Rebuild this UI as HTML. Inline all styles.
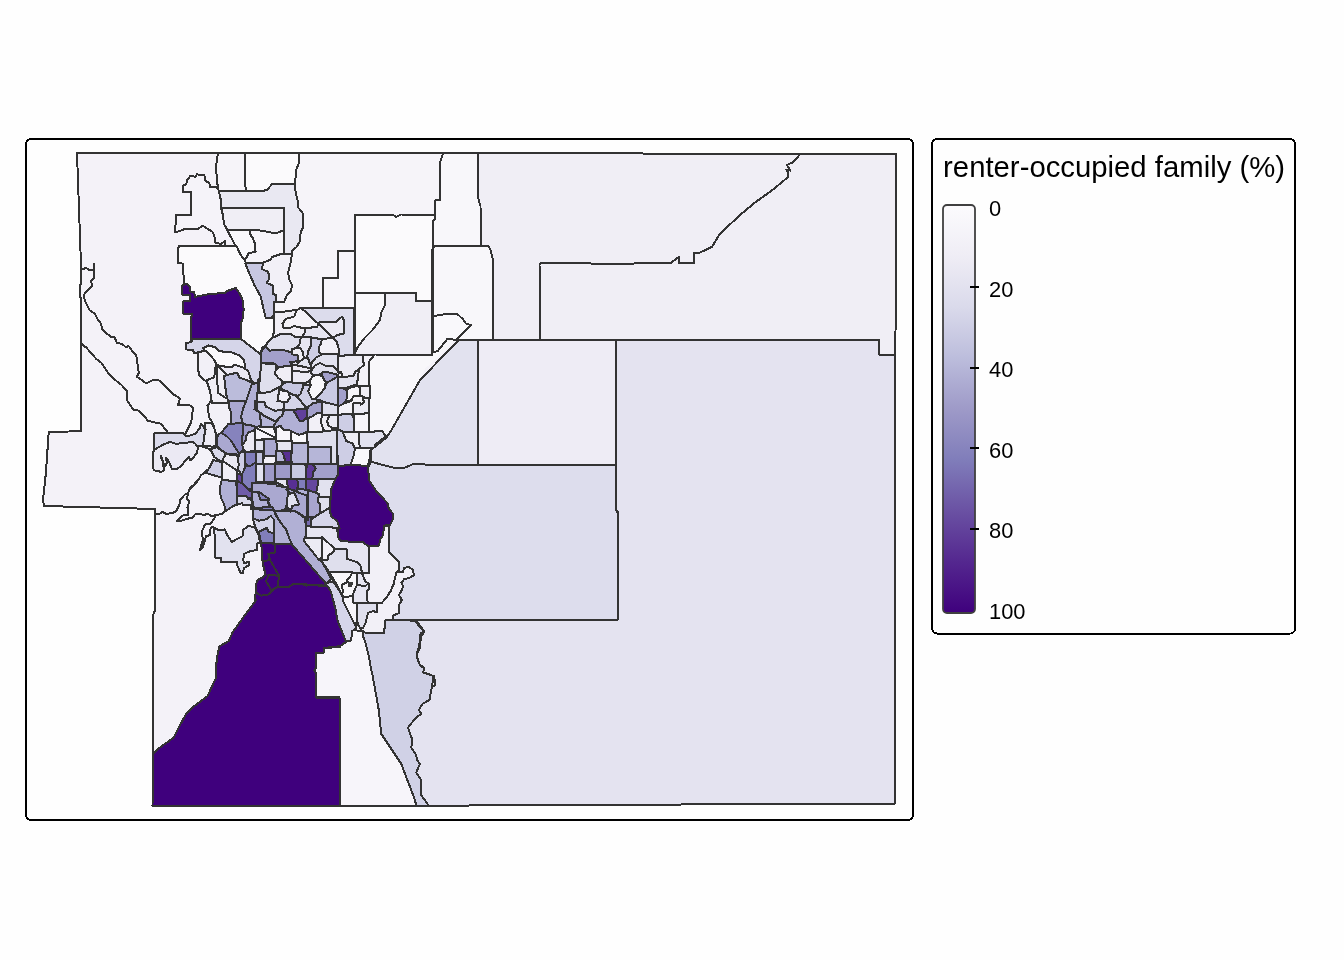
<!DOCTYPE html>
<html lang="en">
<head>
<meta charset="utf-8">
<title>renter-occupied family (%)</title>
<style>
html,body{margin:0;padding:0;background:#fefefe;}
body{width:1344px;height:960px;overflow:hidden;position:relative;font-family:"Liberation Sans",sans-serif;}
svg{position:absolute;left:0;top:0;display:block;}
#map .f{stroke:none;}
#map .s{fill:none;stroke:#333333;stroke-width:2.0;stroke-linejoin:round;stroke-linecap:round;}
.frame{fill:#fefefe;stroke:#000;stroke-width:2;}
.ttl{font-size:29.3px;fill:#000;}
.lab text{font-size:21.9px;fill:#000;}
.tk line{stroke:#000;stroke-width:1.8;}
</style>
</head>
<body>
<svg width="1344" height="960" viewBox="0 0 1344 960" font-family="Liberation Sans, sans-serif">
<defs><linearGradient id="g" x1="0" y1="0" x2="0" y2="1"><stop offset="0%" stop-color="#FCFBFD"/><stop offset="12.5%" stop-color="#EFEDF5"/><stop offset="25%" stop-color="#DADAEB"/><stop offset="37.5%" stop-color="#BCBDDC"/><stop offset="50%" stop-color="#9E9AC8"/><stop offset="62.5%" stop-color="#807DBA"/><stop offset="75%" stop-color="#6A51A3"/><stop offset="87.5%" stop-color="#54278F"/><stop offset="100%" stop-color="#3F007D"/></linearGradient></defs>
<rect x="0" y="0" width="1344" height="960" fill="#fefefe"/>
<rect class="frame" shape-rendering="crispEdges" x="26" y="139" width="887" height="681" rx="5" ry="5"/>
<g id="map" shape-rendering="crispEdges">
<path class="f" fill="#f4f2f8" d="M77,152.8 896.2,153.8 896,307 895,354.5 894.5,354.5 894.5,803.5 540,805.5 152.5,806.2 152.5,617 155,610 155,509 44,506 43,500 46,472 48.7,432 81,431.2 81,298 79.5,296 79.5,285 81,284 81,265Z"/>
<path class="f" fill="#fbfafc" d="M245,153.1 299.4,153.1 299,162.5 296.2,170 295,184.4 276.2,184.4 271.9,184.4 266.9,190 261.2,191.2 246.2,191.2 245,183.8Z"/>
<path class="f" fill="#f6f4f9" d="M218.1,152.5 245,153.1 245,183.8 246.2,191.2 218.8,191.2 217.8,187.5 216.9,177.5 215.9,167.5 216.9,160Z"/>
<path class="f" fill="#e9e8f2" d="M218.8,191.2 246.2,191.2 261.2,191.2 266.9,190 271.9,184.4 276.2,184.4 295,184.4 295.6,192.5 297.5,200 298.1,207.5 302.5,212.5 302.9,227.5 300.6,232.5 300,241.2 296.2,247.5 292.5,250 291.2,254.4 284.4,254.4 284.4,208.1 221.2,208.1 220.6,198.8Z"/>
<path class="f" fill="#f0eef5" d="M221.2,208.1 284.4,208.1 284.4,230 276.2,233.1 270.6,232.5 262.5,230.6 250.6,230.2 227.4,230.2 224,223.8 223.1,216.2Z"/>
<path class="f" fill="#f9f8fb" d="M227.4,230.2 250.6,230.2 250,233.8 253.1,238.8 255,243.8 255.6,251.9 248.8,253.1 246.2,258.1 243.1,260 240,255 236.2,247.5 234.5,243.8Z"/>
<path class="f" fill="#f6f4f9" d="M250.6,230.2 262.5,230.6 270.6,232.5 276.2,233.1 284.4,230 284.4,254.4 280,255 272.5,257.5 271.2,260 263.8,263.1 247.5,263.8 246.2,263.8 243.1,260 246.2,258.1 248.8,253.1 255.6,251.9 255,243.8 253.1,238.8 250,233.8Z"/>
<path class="f" fill="#f5f3f9" d="M218.1,188.1 215,186.9 210,186.9 209.4,183.1 205,180.6 204.4,175 196.9,174.4 195,176.9 190.6,175.6 186.9,180.6 186.2,184.4 182.8,185.6 182.8,191.9 191.2,191.9 191.2,215 176,215 175.2,232.2 178.8,231.2 185.6,228.8 198.1,228.8 202.5,225.6 205.6,227.5 212.5,231.9 214.4,236.2 215.6,243.1 221.2,243.8 225,241.2 225,245.6 235.9,246.2 234.5,243.8 229.2,233.8 224,223.8 223.1,216.2 221.2,208.1 220.6,198.8 218.8,191.2Z"/>
<path class="f" fill="#f6f4f9" d="M299.4,153.1 299,162.5 296.2,170 295,184.4 295.6,192.5 297.5,200 298.1,207.5 302.5,212.5 302.9,227.5 300.6,232.5 300,241.2 296.2,247.5 292.5,250 291.2,254.4 290.6,260 290.6,260 287.5,272.5 288.8,280 291.2,285 290.6,290.6 286.2,295 283.8,301.2 276.9,301.2 273.1,301.9 273.1,312.5 273.8,312.5 282.5,311.9 291.2,310.6 296.9,310 300,308.8 303.1,306.2 305,308.1 323.8,308.8 323.8,290 323,278 338.2,278 338.2,250.8 354.5,250.8 354.5,215 393,215 396.2,217 401.2,214.5 435,215 435,200.5 440,200 440,162.5 443,153.8Z"/>
<path class="f" fill="#f0eef5" d="M478,153.8 896.2,153.8 896,307 895,354.5 878.7,354.5 878.7,340 617,340 493,340 493,265 492.5,257.5 490.5,250 488.8,246.2 481,245.5 480.5,206.2 478,197.5Z"/>
<path class="f" fill="#f8f7fa" d="M443,153.8 478,153.8 478,197.5 480.5,206.2 481,245.5 435,246.2 432.5,248.8 432.5,221.2 435,218.8 435,200.5 440,200 440,162.5Z"/>
<path class="f" fill="#fbfafc" d="M354.5,215 393,215 396.2,217 401.2,214.5 435,215 435,218.8 432.5,221.2 432.5,248.8 432,301.2 416.2,300.8 416.2,293 385,293.5 354.5,293Z"/>
<path class="f" fill="#f7f5fa" d="M323,308.8 323,278 338.2,278 338.2,250.8 354.5,250.8 354.5,309.2Z"/>
<path class="f" fill="#f9f8fb" d="M354.5,293 385,293.5 384.5,306.2 381.2,312.5 380,320 372.5,330 365,337.5 357.5,347.5 354.5,353.8Z"/>
<path class="f" fill="#f0eef5" d="M385,293.5 416.2,293 416.2,300.8 432,301.2 432,355 412.5,355.5 375,354.5 354.5,355 354.5,353.8 357.5,347.5 365,337.5 372.5,330 380,320 381.2,312.5 384.5,306.2Z"/>
<path class="f" fill="#f8f7fa" d="M432.5,248.8 435,246.2 488.8,246.2 490.5,250 492.5,257.5 493,265 493,340 478,340 456.2,340 471.2,325 466.2,323.8 462.5,318.8 457.5,314.2 447.5,313.8 432.5,316.2Z"/>
<path class="f" fill="#f9f8fb" d="M432.5,316.2 447.5,313.8 457.5,314.2 462.5,318.8 466.2,323.8 471.2,325 456.2,340 447.5,338.8 437.5,351.2 432.5,352.5Z"/>
<path class="f" fill="#e4e3f0" d="M617,340.5 770.5,340 878.8,340 878.8,354.5 894.5,354.5 894.5,803.5 428,805.7 427.5,804 421.2,795 421.2,780 416.2,772.5 420,763.7 417,760 416.2,755 411.2,747.5 412.5,740 410,733.7 408,727.5 415,718.7 421.2,713.7 418.7,710 422.5,703.7 429.5,700 430.7,688 435,685 435.5,680 430,675 423,673.7 423.7,668 418,662.5 417,653.7 419.5,648.7 421.2,636.2 424.5,631.2 420,626.2 416.2,620 618,619.5 618,512.5 616.2,510 616.2,340Z"/>
<path class="f" fill="#eeecf5" d="M477.5,340 616.2,340 616.2,464.5 477.5,464.5Z"/>
<path class="f" fill="#e2e2ef" d="M477.5,340 477.5,464.5 425,464.5 413.8,463.8 405,467.5 396.2,468.2 382.5,465 370,461.2 370,450 375,444.5 385,438.8 390,432.5 420,380 458.7,340Z"/>
<path class="f" fill="#dddded" d="M370,461.2 382.5,465 396.2,468.2 405,467.5 413.8,463.8 425,464.5 616.2,464.5 616.2,510 617.5,512.5 618,557.5 618,619.5 384.4,620 392.5,618.8 392.5,615 398.8,612.5 398.1,605 401.2,600 398.1,595 400,592.5 402.5,586.2 400.6,582.5 403.8,578.8 408.8,577.5 413.1,575 412.5,570 408.1,567.5 404.4,568.8 403.8,572.5 396.9,572.5 398.1,570 398.1,561.9 388.1,551.9 388.1,526.2 390,525 390,525 392.5,520 393.1,513.8 388.8,508.8 387.5,503.1 376.2,491.2 368.8,480 368.1,464.4 369.5,465Z"/>
<path class="f" fill="#3f007d" d="M338.1,464.4 368.1,464.4 368.8,480 376.2,491.2 387.5,503.1 388.8,508.8 393.1,513.8 392.5,520 390,525 384.4,525.6 385,526.2 383.1,536.2 380.6,540 379.4,546.2 368.1,546.9 362.5,542.5 340.6,541.9 337.5,537.5 337.5,523.8 329.4,516.2 329.4,490 332.5,485 336.2,475Z"/>
<path class="f" fill="#dfdfed" d="M361.2,433.8 380,433 385,438.8 375,444.5 370,450 361.2,448.8Z"/>
<path class="f" fill="#d0d1e6" d="M363.8,630.6 365,631.9 373.1,632.2 383.8,632.2 384.4,620 415,620.6 417.5,623.8 420,627.5 424.4,631.2 420.6,633.1 420,640 418.8,647.5 416.9,652.5 417.5,658.8 420,665 424.4,668.8 423.1,672.5 427.5,673.8 433.8,676.2 429.5,700 422.5,703.8 418.8,710 421.2,713.8 415,718.8 408,727.5 410,733.8 412.5,740 411.2,747.5 416.2,755 417,760 420,763.8 416.2,772.5 421.2,780 421.2,795 427.5,803.8 428,805.8 416.2,805.8 415,800 401.2,763.8 381.2,733.8 378.8,710 372.5,675 371.2,670 368.8,656.2 365,641.2 362.5,635Z"/>
<path class="f" fill="#f7f5fa" d="M351.9,630.6 355,628.1 358.1,630.6 363.8,630.6 362.5,635 365,641.2 368.8,656.2 371.2,670 372.5,675 378.8,710 381.2,733.8 401.2,763.8 415,800 416.2,805.8 340,806.2 340,715 339.5,697.5 316.2,697 316.2,675 314.5,671.2 316.2,667.5 315.6,667.5 316.2,652.2 323.1,651.9 323.8,648.1 340,646.9 341.2,645 345,641.9 346.2,640.6 350,640 351.2,636.2Z"/>
<path class="f" fill="#3f007d" d="M334.4,600 331.2,591.2 328.8,586.2 326.2,583.1 323.1,580 316.2,572.5 308.8,563.8 300,553.8 292.5,545 290,543.5 275,543.1 261.2,543.1 261.9,552.5 262.5,561.2 263.8,568.1 265.6,574.4 262.5,577.5 257.5,580 255.6,586.2 255.6,592.5 255,601.6 245,615 232.5,632.5 228.8,641.2 219.5,646.2 217.5,655 216.2,665 216.2,677.5 207.5,696.2 192.5,707.5 186.2,713.8 180,725 173.8,737.5 160,747.5 153,753.8 152.5,806.2 340,806.2 340,715 339.5,697.5 316.2,697.5 316.2,673.8 314.5,670.5 316.2,667.5 316.2,653 323.8,652.5 323.8,648 340,646.2 347,641.2 343.8,632.5 338.8,620 336.2,607.5ZM256.2,600 255,601.9 255,601.6Z"/>
<path class="f" fill="#b1b0d5" d="M270,500 275,510 293.8,510 305,518.1 306.9,537.5 305,540.6 308.8,546.2 317.5,557.5 323.1,563.8 331.2,578.8 326.2,583.1 323.1,580 316.2,572.5 308.8,563.8 300,553.8 292.5,545 290,543.5 286.2,536.2 284.4,530 280,523.1 275,512.5 271.9,506.2 269.4,500Z"/>
<path class="f" fill="#b1b0d5" d="M275,512.5 280,523.1 284.4,530 286.2,536.2 290,543.1 275,543.1 273.1,543.1 273.8,532.5 275,525 273.8,518.8Z"/>
<path class="f" fill="#7c74b5" d="M260,531.9 265,528.1 268.1,530 268.8,533.8 273.1,533.1 273.1,542.5 261.2,542.5 260.6,536.2Z"/>
<path class="f" fill="#e2e2ef" d="M214.4,528.1 218.8,530 225,529.4 226.9,534.4 231.9,541.9 237.5,538.8 242.5,536.2 243.1,530 248.1,526.2 253.8,526.9 255.6,528.8 258.8,535 260,542.5 257.5,543.1 256.9,550 250,551.2 244.4,553.8 243.1,560 244.4,563.1 248.8,561.9 249.4,565 243.8,568.1 243.1,573.1 240.6,572.5 237.5,566.2 236.9,561.9 221.2,561.9 220.6,557.5 215,557.5Z"/>
<path class="f" fill="#fbfafc" d="M178.2,263 183.2,263.7 183.8,285.8 186.6,285.1 188.8,287.7 189.5,293.1 193.2,293.3 193.9,298.2 198.9,297.5 210.1,295 225.2,294.3 228.4,291.8 235.4,289.5 238.8,294.7 241.3,300.2 242.5,310 241.3,318.6 239.4,323.6 239.4,339.1 242.2,340.5 260.2,355.3 263.6,347.8 267.9,342.9 272.4,339.1 273.7,332.6 273.7,313.9 273.3,313.8 270.9,316.9 266.7,316.9 264.3,307.4 261.8,296 255.5,284.7 248,267.2 244.3,259.7 240.5,254.7 237,247.2 236.2,245.6 225,246.3 178.9,246.3 178.2,248.7Z"/>
<path class="f" fill="#3f007d" d="M182.5,285.2 182.1,294.6 190.4,294.9 190.4,300.7 183.2,301.3 183.2,313.7 192.3,314.3 190.7,318.6 190.7,340 240.6,339.3 240.6,323.9 242.5,318.9 243.7,310 242.5,299.8 239.9,294.1 235.9,288 227.8,290.7 224.8,293.2 209.9,293.8 198.6,296.3 194.9,296.8 194.3,292.2 190.5,291.9 189.9,287.3 187.1,283.7Z"/>
<path class="f" fill="#c7c7e1" d="M247.5,263.1 245.4,263.1 246.9,267.7 254.5,285.3 260.7,296.5 263.2,307.6 265.8,318.1 271.6,318.1 273.7,315.2 273.7,302.4 277.5,301.8 277.5,293.9 274.3,293.3 273.7,284.6 268.4,282.2 270.6,278.9 269.3,270.8 263.2,268.4 264.5,262.5Z"/>
<path class="f" fill="#f2f0f7" d="M263.2,262.7 261.8,269.1 268.2,271.7 269.4,278.6 266.6,282.8 272.6,285.4 273.2,294.2 276.3,294.9 276.3,301.9 284.2,301.9 286.8,295.3 291.2,290.9 291.9,284.9 289.3,279.8 288.1,272.5 291.2,260.1 291.9,253.8 284.3,253.8 279.9,254.4 272.1,257 270.8,259.5Z"/>
<path class="f" fill="#a3a0cb" d="M266.4,345.5 262.6,347 260,354.9 260.7,363.8 273.6,363.1 281.1,367.5 290.4,366.8 291.7,363 298,361.8 299.5,355.1 290.2,354.4 283.9,350.7 270.3,349.4Z"/>
<path class="f" fill="#f8f7fa" d="M369.4,361.2 373.8,355.6 432,355 432.5,352.5 437.5,351.2 447.5,338.8 456.2,340 425,368.8 418.8,380 403.8,410 393.8,426.2 385,436.9 381.2,432.5 368.8,432.5 369.4,410Z"/>
<path class="f" fill="#f4f2f8" d="M362.5,355.6 373.8,355.6 369.4,361.2 369.4,385 356.2,385 357.5,377.5 358.1,371.2 360,367.5 363.1,365Z"/>
<path class="f" fill="#dcdcec" d="M300.1,308.5 318.3,325.4 332.1,338.5 335.7,342.8 337.5,348.9 337.9,355.6 354.4,355.6 354.4,308.1 300.2,308.1Z"/>
<path class="f" fill="#ebe9f3" d="M318.9,322.5 318.1,325.2 331.8,338.2 337.7,334.9 343.7,333.6 343.7,319.9 342.1,316.5 336,321.9Z"/>
<path class="f" fill="#f0eef5" d="M273.8,312.5 282.5,311.9 291.2,310.6 296.9,310 300,308.8 301.2,308.8 318.8,325 332.5,338.1 322.5,340 311.9,338.1 301.2,337.5 295,337.5 291.2,335 281.2,334.4 271.9,338.8 273.8,333.8Z"/>
<path class="f" fill="#f4f2f8" d="M282.5,323.6 283.3,327.5 291.4,327.5 293.8,326.2 297.4,326.8 306.2,328.7 317.9,328.1 319.5,324.9 301.4,308 296.4,310.2 294.5,316.4 285.9,318.9Z"/>
<path class="f" fill="#e6e5f1" d="M305.1,328.2 304.4,333.5 301.4,337.7 301.4,337.8 312.4,338.7 322.5,340.6 333.6,338.5 333.7,338.4 318.6,324 317.1,326.9Z"/>
<path class="f" fill="#dfdfed" d="M267,343.4 265.6,346.3 269.1,351.9 280,351.2 286.1,351.8 293,354.6 293.7,349.9 297.2,349.3 301.2,344 301.9,336.9 295.2,336.9 291.4,334.4 281.1,333.8 271.5,338.3Z"/>
<path class="f" fill="#a3a0cb" d="M265.7,346 262,349.7 260.6,354.9 260.6,363.1 272.9,363.1 274.6,364.9 279.9,367.5 290.4,365.5 291.6,363.1 298.6,362.4 299.4,360.1 298.7,354.5 292.7,353.2 286.4,350.7 280,350 269.6,350.6Z"/>
<path class="f" fill="#e6e5f1" d="M300.7,336.9 300,343.5 295.8,349.2 295.8,349.4 299.7,349.4 301.9,352.7 302.6,358.7 308,358.7 309.3,351.4 311.8,346.4 312.5,337.6Z"/>
<path class="f" fill="#cecee5" d="M311.3,337.4 310.7,346.1 308.2,351.1 306.9,358.2 308.2,362.7 311.2,368.7 311.6,368.7 313,362.8 316.6,358.6 323.5,355.2 320.6,352.2 320,347.6 321.8,344.6 323.3,339.5Z"/>
<path class="f" fill="#f2f0f7" d="M322,339.5 320.7,344.1 318.8,347.4 319.4,352.8 322.3,355.6 339.1,355.6 338.7,348.6 336.8,342.2 332.7,337.5Z"/>
<path class="f" fill="#dfdfed" d="M260.9,363.1 260,364.8 256.9,385 258.2,392.4 266.3,394.4 272.7,391.8 280.5,387.9 283.2,380.4 279.2,377.1 276.3,373.6 276.9,370 275.5,364.4Z"/>
<path class="f" fill="#f0eef5" d="M275.7,369.6 275,373.9 278.3,377.9 282.2,381.2 286.1,382.5 293.2,383.2 291.8,365.6 279.8,366.9Z"/>
<path class="f" fill="#e2e2ef" d="M297.9,361.3 290.3,362 292.1,365.5 310.2,369.4 312,367.6 309.3,362.3 308,357.5 302.9,357.5Z"/>
<path class="f" fill="#f0eef5" d="M291.9,348.9 291.9,354.2 297.6,355.5 298.1,359.9 297.2,362.7 297.6,363 303.8,358.4 303.1,352.3 300.3,348.1 296.8,348.1Z"/>
<path class="f" fill="#ebe9f3" d="M291.8,364.2 292.6,371.8 303.8,373.1 312.1,371.7 310.4,368.2Z"/>
<path class="f" fill="#ebe9f3" d="M292.6,370.6 291.9,383.1 303.9,383.7 310.4,380.5 314.5,375 311.5,371.3 303.8,371.9Z"/>
<path class="f" fill="#e2e2ef" d="M322.4,354.4 315.9,357.6 312,362.2 310.6,367.6 312.4,371.2 315.4,366.7 320,364.4 324.9,366.9 332.3,366.9 335.9,370.5 339.1,372.3 339.1,354.4Z"/>
<path class="f" fill="#e2e2ef" d="M314.6,365.8 310.5,371.9 313.5,375.7 322.6,373.7 325,373.1 328.6,373.7 335.9,375.5 337.8,377.4 337.9,377.4 339.2,370.9 336.6,369.5 332.7,365.6 325.1,365.6 320,363.1Z"/>
<path class="f" fill="#f8f7fa" d="M313.4,375.7 310.1,379.8 309.4,384.8 306.2,391.9 307.6,394 309.6,400.7 315.3,399.9 320.5,395.4 324.3,389 325.6,382.4 322.9,377.1 318.9,375Z"/>
<path class="f" fill="#c7c7e1" d="M280.5,386.1 282.1,389.2 297.5,396.9 300.4,395.5 304.4,388.8 303,383.2 292.5,382.5 286.1,381.9Z"/>
<path class="f" fill="#a3a0cb" d="M321.9,372.7 321.9,375.1 324.5,380.3 327.4,383.9 338.4,376.3 336.6,374.5 328.9,372.5 325,371.9Z"/>
<path class="f" fill="#c9cae3" d="M338,376.5 327,382.7 324.5,388.4 319.6,394.6 313.8,400.3 313.8,400.3 338.1,406.4 339.1,387.5Z"/>
<path class="f" fill="#a3a0cb" d="M338.1,386.6 338.1,406.6 342.9,404.2 346.8,400.3 348.1,393.6 345.4,389.5Z"/>
<path class="f" fill="#ecebf4" d="M338.1,355.7 338.1,371.9 341.3,371.9 341.9,376.6 344.9,378.1 354.1,376.8 356.7,371.6 360.4,367.9 363.7,365.3 363.1,355Z"/>
<path class="f" fill="#e2e2ef" d="M338.1,376.9 338.1,387.5 347.6,387.5 356.8,384.2 358.1,377.6 358.8,370.6 355.9,370.6 353.4,375.7 345,376.9Z"/>
<path class="f" fill="#f0eef5" d="M358.1,385.6 358.1,398.1 370,398.1 370,385.6Z"/>
<path class="f" fill="#f2f0f7" d="M367.5,546.3 368.1,571.9 360.4,571.9 364.5,583 367.5,584.1 365.6,595 367.7,603.1 382.1,603.7 386.7,600.4 391.8,592.8 395.6,582.6 396.8,573.9 398.7,570.1 398.7,561.6 388.7,551.6 388.7,525.6 384.5,525.6 382.6,536 380.1,539.8 378.9,545.7Z"/>
<path class="f" fill="#e6e5f1" d="M306.3,525.6 306.3,534.9 304,539.4 322.3,538.7 334.8,550.6 345.6,550.6 345.6,559.8 355.9,563 359.4,566.5 360.8,573.1 369.4,573.1 368.7,546.6 362.7,541.9 340.9,541.3 338.1,537.3 336.8,525.6Z"/>
<path class="f" fill="#ecebf4" d="M304.4,538.2 304.4,541.5 318.6,559.5 323.1,557.2 323.1,537.5Z"/>
<path class="f" fill="#f2f0f7" d="M321.9,537.1 321.9,556.8 321.2,561.3 329.4,560.5 328.8,556.5 334.2,552.9 335.7,549.9 322.2,537Z"/>
<path class="f" fill="#dfdfed" d="M334.6,549.4 333.3,552.1 327.5,556 328.1,559.5 320.8,560.1 330.3,573.7 362,573.1 360.6,566 356.6,562 346.9,558.9 346.9,549.4Z"/>
<path class="f" fill="#dadaeb" d="M154.4,433.2 154.4,451 164,445.5 170,443.1 176.2,445 182.6,444.3 192.3,443.1 194.7,444.9 198.7,446.2 204.3,445.5 205.6,435 204.3,427.2 201,423.9 199.5,428.5 195.9,433.3 189.9,435.6 185.3,435.6 182.8,432.5Z"/>
<path class="f" fill="#ebe9f3" d="M154.5,449.6 153.2,452.3 152.5,467.7 154.7,470.5 161.4,471.9 163.8,470.3 163.1,462.4 160.7,456.4 161,456.1 164.8,466.2 165.1,466.2 166.9,462.6 165.9,457.6 166.4,457.9 169.5,462.8 172.1,469.4 176.5,469.4 181.7,465.4 185.4,460.4 189.1,457.3 190.4,460.4 193,457.9 196.8,452.8 198.2,447.4 195.4,443.9 192.7,441.9 182.4,443.2 176.3,443.8 170,441.9 163.5,444.5Z"/>
<path class="f" fill="#eeecf5" d="M205,423.1 205.6,430 204.4,434.9 203.1,445.6 207.4,445.6 212.5,446.9 216.2,445.4 216.2,434.9 214.3,428.5 211.6,423.1Z"/>
<path class="f" fill="#f2f0f7" d="M207.5,405.4 208.2,411.3 209.4,417.7 213.2,424 216.5,435.9 221.6,433 229.1,424.8 232.5,422.8 232.5,412.4 230.6,407.3 227.9,401.3 211,401.3Z"/>
<path class="f" fill="#f2f0f7" d="M396.4,571.9 395.7,574.9 393.8,583.6 390.7,591 385.8,598.4 381.6,603.1 376.3,603.1 375.7,610.6 372.4,610 367,612 364.4,622.3 362.1,627 360.8,627.5 356.7,624.1 354.2,628.3 357.9,631.2 363.5,631.2 364.7,632.5 373.1,632.9 384.3,632.9 384.9,620.5 393.1,619.3 393.1,615.4 399.4,612.9 398.7,605.1 402,600 398.9,595 400.5,592.8 403.2,586.2 401.3,582.6 404.1,579.3 409,578.1 413.8,575.3 413.1,569.6 408.2,566.8 403.8,568.3 403.2,571.9Z"/>
<path class="f" fill="#d5d5e9" d="M328.5,582.6 325.2,584.2 328.3,587.2 330.7,591.5 333.2,600.2 335.7,610.1 337.5,620.2 341.9,631.5 345.9,641.3 350.5,640.5 351.8,636.4 352.4,630.9 355.6,628.4 355.6,624.9 353,618.5 344.3,601 340.5,592.2 332.7,581.2Z"/>
<path class="f" fill="#f8f7fa" d="M328.9,572.7 332,576.6 337,585.3 340.8,592.4 344.5,593.3 343.2,585.4 349.6,582.8 348.2,580.1 351.8,576.6 353.4,572.6 345,571.9 328.9,572.6Z"/>
<path class="f" fill="#f8f7fa" d="M352.1,572.5 350.7,575.9 346.8,579.9 347.9,582.2 341.8,584.6 343.1,592.2 341.8,592.8 343.3,597.5 352.9,596.8 354.3,594 358.1,585.1 358.8,572.5Z"/>
<path class="f" fill="#3a3a3a" d="M347.8,581.5 352.5,582 352.8,585 351.2,587.2 348.1,586.5Z"/>
<path class="f" fill="#e6e5f1" d="M357.6,572.5 356.9,584.9 353.2,593.6 352.5,596.1 351.8,603.7 369.2,603.7 369.2,603.7 367.5,601.1 366.9,591.4 368.7,589 368.7,583.3 365.5,582 361.7,572.5Z"/>
<path class="f" fill="#f7f5fa" d="M343.1,596.9 343.1,601.4 354.9,625 355.1,625 357.5,620.1 357.5,603.2 353.1,602.6 353.1,596.2Z"/>
<path class="f" fill="#dfdfed" d="M356.9,603.1 356.9,621.4 360.3,628.9 362.9,628 365.6,622.7 368,613 372.6,611.2 376.8,611.9 377.5,603.1Z"/>
<path class="f" fill="#333333" d="M247.6,390.1 247.6,428.8 262.4,427.9 262.4,412.5 257.8,409.1 259.9,401.6 259.9,381.9 258.3,381.2Z"/>
<path class="f" fill="#aaa8d0" d="M248.6,390.6 248.6,427.7 261.4,426.9 261.4,413.1 256.6,409.5 258.9,401.4 258.9,382.6 258.5,382.4Z"/>
<path class="f" fill="#333333" d="M247.6,423.7 247.6,433.2 253.8,442.5 263.9,441.8 278.2,441 277.3,425.2Z"/>
<path class="f" fill="#f7f5fa" d="M248.6,424.8 248.6,432.9 254.3,441.5 263.8,440.8 277.1,440.1 276.3,426.2Z"/>
<path class="f" fill="#333333" d="M247.6,450.1 247.6,464.9 258,464.9 258,450.1Z"/>
<path class="f" fill="#7c74b5" d="M248.6,451.1 248.6,463.9 257,463.9 257,451.1Z"/>
<path class="f" fill="#333333" d="M247.6,462.6 247.6,484.9 258.1,484.9 257.3,462.6Z"/>
<path class="f" fill="#8683bd" d="M248.6,463.6 248.6,483.9 257.1,483.9 256.4,463.6Z"/>
<path class="f" fill="#333333" d="M235.3,472.2 235.3,492.4 251.6,492.4 252.4,490.4 245.8,484.1 244.4,474.7Z"/>
<path class="f" fill="#61409b" d="M236.3,473.5 236.3,491.4 251,491.4 251.2,490.7 244.8,484.6 243.5,475.5Z"/>
<path class="f" fill="#333333" d="M252,481.7 249.8,492.4 289.6,492.4 289.6,486.1 277.9,485.5 276.6,480.2Z"/>
<path class="f" fill="#b1b0d5" d="M252.8,482.7 251,491.4 288.6,491.4 288.6,487.1 277.1,486.4 275.8,481.3Z"/>
<path class="f" fill="#333333" d="M221.1,477.7 221.1,492.4 238.4,492.4 238.4,479.5Z"/>
<path class="f" fill="#b1b0d5" d="M222.1,478.8 222.1,491.4 237.4,491.4 237.4,480.4Z"/>
<path class="f" fill="#333333" d="M281.5,409.2 275.6,419.1 273.8,426 280.2,429.3 289.5,433.4 302.4,433.7 302.4,420 296.1,409.2Z"/>
<path class="f" fill="#b1b0d5" d="M282.1,410.2 276.6,419.5 275,425.5 280.6,428.4 289.7,432.4 301.4,432.7 301.4,420.2 295.6,410.2Z"/>
<path class="f" fill="#333333" d="M288.8,392.5 285.7,400.1 283.2,404 280.9,412.3 302.4,410.7 302.4,396Z"/>
<path class="f" fill="#d3d3e7" d="M289.4,393.7 286.6,400.6 284.1,404.4 282.3,411.2 301.4,409.8 301.4,396.8Z"/>
<path class="f" fill="#333333" d="M285.9,477.6 286.8,489.5 291.7,494.8 300.3,492.9 299.4,477.6Z"/>
<path class="f" fill="#65479e" d="M287,478.6 287.8,489.1 292,493.7 299.2,492.1 298.4,478.6Z"/>
<path class="f" fill="#333333" d="M297.4,477.6 297.4,493.8 307.6,498.3 307.6,477.6Z"/>
<path class="f" fill="#817ebb" d="M298.4,478.6 298.4,493.2 306.6,496.8 306.6,478.6Z"/>
<path class="f" fill="#333333" d="M273.7,477.6 275.8,487.5 288.3,488.5 288.3,477.6Z"/>
<path class="f" fill="#e2e2ef" d="M274.9,478.6 276.6,486.6 287.3,487.4 287.3,478.6Z"/>
<path class="f" fill="#333333" d="M305.5,516.7 305.5,527 312.4,527 312.4,516.7Z"/>
<path class="f" fill="#7c74b5" d="M306.5,517.7 306.5,526 311.4,526 311.4,517.7Z"/>
<path class="f" fill="#333333" d="M184.5,342.4 184.5,350.3 192.4,351 193.1,354.4 208,353.5 207.1,349.8 209.2,348.3 213.7,349.6 217.7,353.6 230.6,354.9 238.6,358.3 241.5,361.2 242.7,367.2 245.9,372.2 249.1,383.8 253.6,388.3 260.4,382.4 261.8,367.7 262.5,354.5 244,340 240.8,337.6 192.3,338.2 190.9,341Z"/>
<path class="f" fill="#d5d5e9" d="M185.5,343.3 185.5,349.4 193.2,350.1 193.9,353.3 206.8,352.5 206,349.3 209,347.2 214.3,348.7 218.1,352.6 230.9,353.9 239.2,357.4 242.5,360.7 243.7,366.8 246.8,371.8 250,383.2 253.7,386.9 259.5,381.9 260.8,367.6 261.4,355 243.4,340.8 240.5,338.6 192.9,339.2 191.5,341.9Z"/>
<path class="f" fill="#333333" d="M201.9,347.6 204.9,354.6 211.3,360.4 217.5,368.5 233.4,370 235.6,367.7 243.1,370.2 246.4,367 244.7,359.5 240.8,354.9 231.8,351.4 219.8,350.2 216.3,346.6 208.5,344.3Z"/>
<path class="f" fill="#faf9fc" d="M203.2,348.1 205.7,354 212.1,359.7 218,367.6 233,369 235.4,366.6 242.9,369.1 245.3,366.7 243.8,360 240.2,355.7 231.6,352.4 219.4,351.2 215.7,347.5 208.6,345.4Z"/>
<path class="f" fill="#333333" d="M196.9,351 197.6,374.7 201.5,379.3 207.2,383.4 217.2,379.2 218.7,365.7 214.4,358.6 209.2,352.7 206.5,350Z"/>
<path class="f" fill="#f2f0f7" d="M197.9,351.9 198.6,374.3 202.2,378.5 207.3,382.2 216.3,378.5 217.7,365.9 213.6,359.2 208.5,353.4 206.1,351Z"/>
<path class="f" fill="#333333" d="M213.7,369.5 221.1,373.2 225.5,377.7 233.6,375.6 235.1,376.2 236.8,380.4 244.2,384.8 254.8,385.8 255.8,383.7 252.1,380 248.9,370.4 243.6,366.6 234.4,363.5 231.6,366.2 219.5,365 213.7,368Z"/>
<path class="f" fill="#ebe9f3" d="M214.7,368.9 221.7,372.4 225.8,376.6 233.7,374.6 235.8,375.5 237.6,379.7 244.6,383.9 254.2,384.7 254.6,383.9 251.2,380.5 248.1,371 243.1,367.5 234.6,364.6 232,367.3 219.7,366.1 214.7,368.6Z"/>
<path class="f" fill="#333333" d="M205.1,379.9 208.9,390.6 211.1,403.6 230,403.6 229.1,397.5 224.5,393.6 219.9,391.1 219.2,363.8 214.9,363.6 213.4,376.4Z"/>
<path class="f" fill="#f0eef5" d="M206.4,380.5 209.9,390.4 211.9,402.6 228.9,402.6 228.2,398 223.9,394.5 218.9,391.7 218.2,364.8 215.8,364.6 214.3,377.1Z"/>
<path class="f" fill="#333333" d="M216.3,365.7 216.6,393.2 222.5,397 228.3,400.5 229.8,399.5 228,389.7 226.7,373.3 218.2,364.8Z"/>
<path class="f" fill="#f0eef5" d="M217.3,366.3 217.6,392.6 223,396.2 228.2,399.3 228.7,399 227,389.8 225.7,373.7 218,366Z"/>
<path class="f" fill="#333333" d="M278.8,387.7 275.9,398.5 278.3,402.5 286.4,403.4 289.4,400.4 291.4,393.3Z"/>
<path class="f" fill="#ebe9f3" d="M279.4,389.1 277,398.3 278.9,401.6 286,402.3 288.5,399.9 290.2,393.8Z"/>
<path class="f" fill="#333333" d="M257.1,390.5 255,402.8 263.6,404.3 266.1,409.9 272.5,408.3 280.1,410.1 285.4,411.2 287.6,400.1 280.8,399.4 280.2,397.4 281.9,388.1 280.8,387.2 272.9,390.6 266.2,392.9Z"/>
<path class="f" fill="#dfdfed" d="M257.9,391.8 256.1,402 264.3,403.4 266.7,408.8 272.5,407.3 280.3,409.1 284.6,410 286.4,401 280.1,400.3 279.2,397.4 280.8,388.5 280.7,388.4 273.3,391.6 266.2,393.9Z"/>
<path class="f" fill="#333333" d="M289,392.4 285.9,398.9 282.1,403.1 284.1,411.4 295.2,411.4 309,409.1 309.5,407.4 306.4,404.8 298.6,395.8Z"/>
<path class="f" fill="#d5d5e9" d="M289.5,393.6 286.7,399.5 283.2,403.4 284.9,410.4 295.1,410.4 308.3,408.2 308.4,407.8 305.7,405.5 298.1,396.7Z"/>
<path class="f" fill="#333333" d="M253.2,400.3 254.2,411.1 260.3,414.3 267.9,416.9 277.4,421.2 281.1,416.7 284.4,411.1 281.8,407.6 272.7,405.4 268,405.9 265.7,401.2Z"/>
<path class="f" fill="#cecee5" d="M254.3,401.4 255.2,410.5 260.7,413.4 268.2,415.9 277.1,420 280.3,416.2 283.2,411.1 281.2,408.5 272.6,406.5 267.4,407 265,402.2Z"/>
<path class="f" fill="#333333" d="M284.9,408.6 281.5,411.8 277,418.9 272.1,425.1 274.3,432.7 279.7,430.6 281.7,432.6 290.8,433.2 298.5,437.2 303.2,435.8 308.9,434 308.9,406.7 304.7,406.4 303.1,416.6 300.3,417.5 295.6,408.6Z"/>
<path class="f" fill="#b1b0d5" d="M285.3,409.6 282.3,412.5 277.9,419.4 273.2,425.3 275,431.4 279.9,429.4 282.1,431.6 291.1,432.3 298.6,436.1 302.9,434.8 307.9,433.3 307.9,407.7 305.5,407.5 304,417.4 299.8,418.7 295,409.6Z"/>
<path class="f" fill="#333333" d="M291.5,410 295.2,415 298.8,422 304,422 307.6,417.6 308.5,407.8 292.1,408.8Z"/>
<path class="f" fill="#61409b" d="M292.7,409.9 296.1,414.5 299.4,421 303.6,421 306.6,417.2 307.4,408.9 292.7,409.7Z"/>
<path class="f" fill="#333333" d="M259.1,410.8 259.1,427.6 273.5,427.6 279.3,419.4 269.7,414.4Z"/>
<path class="f" fill="#b6b6d8" d="M260.1,412.2 260.1,426.6 273,426.6 277.8,419.7 269.3,415.3Z"/>
<path class="f" fill="#333333" d="M302.9,384.2 299.5,393.7 295.6,396.4 304.2,407 307.4,409.5 314.3,404.9 321,401.8 320.5,399 312.6,398 311.9,396.5 309.3,391.1 312.1,384.2Z"/>
<path class="f" fill="#cecee5" d="M303.6,385.2 300.3,394.3 297.1,396.6 304.9,406.3 307.4,408.2 313.8,404 319.9,401.2 319.7,399.9 312,399 311,396.9 308.2,391.2 310.6,385.2Z"/>
<path class="f" fill="#333333" d="M306.7,406.6 305.9,419.7 314.2,417.5 318.6,414.3 323.3,412.7 323.3,399.8 312.4,402.5Z"/>
<path class="f" fill="#a3a0cb" d="M307.6,407.1 307,418.4 313.7,416.5 318.1,413.4 322.3,412 322.3,401.1 312.8,403.5Z"/>
<path class="f" fill="#333333" d="M321.1,400.5 321.1,416.4 339.5,416.4 339.5,404.7Z"/>
<path class="f" fill="#dfdfed" d="M322.1,401.7 322.1,415.4 338.5,415.4 338.5,405.5Z"/>
<path class="f" fill="#333333" d="M346.8,387.9 346.1,393.5 345.1,402.9 353.5,400.6 357.5,397.9 360.8,396.2 360.8,387.3 357,384.6Z"/>
<path class="f" fill="#f7f5fa" d="M347.7,388.7 347.1,393.6 346.3,401.5 353.1,399.7 357,397.1 359.8,395.6 359.8,387.8 356.9,385.7Z"/>
<path class="f" fill="#333333" d="M337.4,405.7 337.4,416.5 355.3,415.7 355.3,408 356.7,404.9 357.7,404.7 360.4,408.3 366.7,401.9 364.7,395.7 358.8,394.8 351.9,395.7 351.2,399.8 345.3,401.9Z"/>
<path class="f" fill="#f4f2f8" d="M338.4,406.4 338.4,415.5 354.3,414.7 354.3,407.8 356,404 358.1,403.6 360.5,406.8 365.6,401.6 363.9,396.6 358.8,395.8 352.8,396.6 352.1,400.6 345.7,402.8Z"/>
<path class="f" fill="#333333" d="M352.5,402.7 351.5,415.1 370.1,415.1 370.1,396.7 362,396.7 362.7,401.9 361,403.2 359.8,401.5Z"/>
<path class="f" fill="#ecebf4" d="M353.4,403.5 352.6,414.1 369.1,414.1 369.1,397.7 363.2,397.7 363.8,402.3 360.9,404.6 359.4,402.6Z"/>
<path class="f" fill="#333333" d="M306.6,417.5 306.6,434.5 315.5,437.3 318.5,435 328.5,433.2 324.3,426.5 322.7,421 323.5,412.9 317.6,411.5 312.6,415.1Z"/>
<path class="f" fill="#f2f0f7" d="M307.6,418.2 307.6,433.8 315.3,436.2 318.1,434.1 326.9,432.5 323.4,426.9 321.7,421.1 322.4,413.7 317.8,412.6 313.1,416Z"/>
<path class="f" fill="#333333" d="M321.6,413.6 319.8,421.3 321.9,428.5 325.2,434 339.2,433.1 338.3,426.7 331.9,426.7 329.2,425 328.4,421.4 331.2,413.6Z"/>
<path class="f" fill="#f0eef5" d="M322.4,414.6 320.8,421.3 322.8,428.1 325.7,433 338.1,432.2 337.5,427.7 331.7,427.7 328.4,425.6 327.3,421.3 329.7,414.6Z"/>
<path class="f" fill="#333333" d="M328.7,414.4 325.9,421.2 327.8,426.3 331.8,428.9 338.9,428.9 338.9,413.3Z"/>
<path class="f" fill="#ecebf4" d="M329.4,415.3 327,421.2 328.6,425.7 332.1,427.9 337.9,427.9 337.9,414.4Z"/>
<path class="f" fill="#333333" d="M337.4,413.7 337.4,430.6 345.8,433.9 355.1,433.9 355.1,419.6 352.6,412.9Z"/>
<path class="f" fill="#cecee5" d="M338.4,414.7 338.4,430 346,432.9 354.1,432.9 354.1,419.7 351.9,413.9Z"/>
<path class="f" fill="#333333" d="M353,413.1 353,433.9 370.1,433.9 370.1,412.2Z"/>
<path class="f" fill="#f7f5fa" d="M354,414 354,432.9 369.1,432.9 369.1,413.3Z"/>
<path class="f" fill="#333333" d="M305.1,431.4 305.1,449.9 327.6,449.9 327.6,466.1 339.9,466.1 339.9,428.6 324.7,430.1 317.3,431.4Z"/>
<path class="f" fill="#dfdfed" d="M306.1,432.4 306.1,448.9 328.6,448.9 328.6,465.1 338.9,465.1 338.9,429.7 324.8,431.1 317.4,432.4Z"/>
<path class="f" fill="#333333" d="M305.1,446.4 305.1,465.5 331.8,465.5 331.8,446.4Z"/>
<path class="f" fill="#b6b6d8" d="M306.1,447.4 306.1,464.5 330.8,464.5 330.8,447.4Z"/>
<path class="f" fill="#333333" d="M336.4,427.7 335.7,466.9 354.3,466.1 357.3,456.8 358.7,448.5 355.6,440.7 349.3,438.2 346.8,431.9Z"/>
<path class="f" fill="#cecee5" d="M337.4,429.2 336.7,465.8 353.5,465.1 356.4,456.6 357.7,448.6 354.8,441.4 348.6,438.9 346.1,432.7Z"/>
<path class="f" fill="#333333" d="M341.5,431.4 345.7,441.8 351.9,444.3 354.6,451.1 363.9,451.1 362.2,431.4Z"/>
<path class="f" fill="#f0eef5" d="M342.9,432.4 346.4,441.1 352.7,443.6 355.3,450.1 362.8,450.1 361.3,432.4Z"/>
<path class="f" fill="#333333" d="M357.4,431.5 359,451.1 370.8,451.1 376.5,446.9 388.4,437.2 382.3,430Z"/>
<path class="f" fill="#e2e2ef" d="M358.5,432.4 360,450.1 370.5,450.1 375.9,446.1 387,437.1 381.9,431.1Z"/>
<path class="f" fill="#333333" d="M354.2,447 352.7,455.7 349.2,466 369.7,466.8 371.8,461.8 372.5,447Z"/>
<path class="f" fill="#f9f8fb" d="M355.1,448 353.6,455.9 350.6,465.1 369.1,465.8 370.8,461.6 371.5,448Z"/>
<path class="f" fill="#333333" d="M289.5,441.4 289.5,465.5 308.6,465.5 308.6,441.4Z"/>
<path class="f" fill="#b6b6d8" d="M290.5,442.4 290.5,464.5 307.6,464.5 307.6,442.4Z"/>
<path class="f" fill="#333333" d="M289.5,429.4 289.5,444.3 308,444.3 308,431.2 299,433.7Z"/>
<path class="f" fill="#f9f8fb" d="M290.5,431 290.5,443.3 307,443.3 307,432.5 298.9,434.8Z"/>
<path class="f" fill="#333333" d="M274.5,427.1 274.5,442.2 292.4,443.9 292.4,429.7 283.9,429 280.9,424.5Z"/>
<path class="f" fill="#f7f5fa" d="M275.5,427.8 275.5,441.3 291.4,442.8 291.4,430.6 283.3,429.9 280.5,425.8Z"/>
<path class="f" fill="#333333" d="M274.5,440.1 274.5,453.6 293,453.6 293,440.1Z"/>
<path class="f" fill="#e6e5f1" d="M275.5,441.1 275.5,452.6 292,452.6 292,441.1Z"/>
<path class="f" fill="#333333" d="M261.4,437.6 261.4,457.4 278.1,457.4 277.3,437.6Z"/>
<path class="f" fill="#aaa8d0" d="M262.4,438.6 262.4,456.4 277.1,456.4 276.3,438.6Z"/>
<path class="f" fill="#333333" d="M274.5,450.1 274.5,463.6 289,463.6 288,455.5 285.2,450.1Z"/>
<path class="f" fill="#b6b6d8" d="M275.5,451.1 275.5,462.6 287.8,462.6 287,455.8 284.6,451.1Z"/>
<path class="f" fill="#333333" d="M279.9,450.1 283.3,457 284.1,463 292.4,465.8 292.4,450.1Z"/>
<path class="f" fill="#582f93" d="M281.5,451.1 284.3,456.7 285,462.3 291.4,464.4 291.4,451.1Z"/>
<path class="f" fill="#333333" d="M261.4,454.5 261.4,464.9 277.4,464.9 277.4,454.5Z"/>
<path class="f" fill="#f4f2f8" d="M262.4,455.5 262.4,463.9 276.4,463.9 276.4,455.5Z"/>
<path class="f" fill="#333333" d="M252.6,438.9 252.6,453.6 264.9,453.6 264.9,438.9Z"/>
<path class="f" fill="#e2e2ef" d="M253.6,439.9 253.6,452.6 263.9,452.6 263.9,439.9Z"/>
<path class="f" fill="#333333" d="M255.2,450.1 254.3,464.9 264.1,464.9 265.1,450.1Z"/>
<path class="f" fill="#c2c3df" d="M256.2,451.1 255.4,463.9 263.2,463.9 264,451.1Z"/>
<path class="f" fill="#333333" d="M254.5,462.6 254.5,484.3 265.5,484.3 265.5,462.6Z"/>
<path class="f" fill="#e2e2ef" d="M255.5,463.6 255.5,483.3 264.5,483.3 264.5,463.6Z"/>
<path class="f" fill="#333333" d="M262.6,462.6 262.6,484.1 277.4,485.1 277.4,462.6Z"/>
<path class="f" fill="#9e9ac8" d="M263.6,463.6 263.6,483.2 276.4,484 276.4,463.6Z"/>
<path class="f" fill="#333333" d="M274.6,461.4 273.7,480.6 292.3,479.8 293.1,461.4Z"/>
<path class="f" fill="#9e9ac8" d="M275.5,462.4 274.8,479.6 291.3,478.8 292.1,462.4Z"/>
<path class="f" fill="#333333" d="M289.5,462.6 289.5,479.8 308,480.6 308,462.6Z"/>
<path class="f" fill="#c9cae3" d="M290.5,463.6 290.5,478.8 307,479.6 307,463.6Z"/>
<path class="f" fill="#333333" d="M304.4,462.6 305.2,481.1 315.9,481.1 316.7,473.5 320.5,468.9 316.3,462.6Z"/>
<path class="f" fill="#5e3998" d="M305.4,463.6 306.2,480.1 315,480.1 315.7,473.1 319.2,468.8 315.7,463.6Z"/>
<path class="f" fill="#333333" d="M311.3,463.8 314.5,468.6 312.1,471.5 311.1,481.1 335,481.1 338.6,475.7 338.6,462.6 312,462.6Z"/>
<path class="f" fill="#a3a0cb" d="M312.5,463.8 315.8,468.7 313,471.9 312.2,480.1 334.5,480.1 337.6,475.4 337.6,463.6 312.6,463.6Z"/>
<path class="f" fill="#333333" d="M274.5,477.6 274.5,488.5 288.6,489.4 288.6,477.6Z"/>
<path class="f" fill="#e6e5f1" d="M275.5,478.6 275.5,487.6 287.6,488.4 287.6,478.6Z"/>
<path class="f" fill="#333333" d="M285.3,477.6 288.1,494.4 293.5,492.6 299.6,496.1 300.7,495.4 299.8,477.6Z"/>
<path class="f" fill="#582f93" d="M286.5,478.6 288.9,493.1 293.6,491.5 299.5,494.9 299.6,494.9 298.8,478.6Z"/>
<path class="f" fill="#333333" d="M296,477.6 297.9,490.8 308.6,492.9 308.6,477.6Z"/>
<path class="f" fill="#817ebb" d="M297.1,478.6 298.8,489.9 307.6,491.7 307.6,478.6Z"/>
<path class="f" fill="#333333" d="M305.1,477.6 305.1,491.7 319.6,497.1 321.4,477.6Z"/>
<path class="f" fill="#65479e" d="M306.1,478.6 306.1,491 318.7,495.7 320.3,478.6Z"/>
<path class="f" fill="#333333" d="M318,477.5 315,494.3 318.7,499.9 331.8,499.9 331.8,490.5 336.6,478.4Z"/>
<path class="f" fill="#e2e2ef" d="M318.8,478.5 316,494.1 319.3,498.9 330.8,498.9 330.8,490.3 335.2,479.3Z"/>
<path class="f" fill="#333333" d="M317.5,496.4 313.3,502.6 315.9,506 318.3,517.1 331.1,511.6 331.1,496.4Z"/>
<path class="f" fill="#dfdfed" d="M318,497.4 314.5,502.5 316.8,505.6 319,515.7 330.1,510.9 330.1,497.4Z"/>
<path class="f" fill="#333333" d="M305.1,487.8 305.1,520.2 321.9,518.4 321.1,504 318.8,501.7 320.2,493.4Z"/>
<path class="f" fill="#a8a5ce" d="M306.1,489.2 306.1,519.1 320.8,517.5 320.1,504.4 317.7,502 319.1,494.1Z"/>
<path class="f" fill="#333333" d="M305.1,516.4 305.1,527.4 314.5,527.4 313.4,516.4Z"/>
<path class="f" fill="#766ab0" d="M306.1,517.4 306.1,526.4 313.4,526.4 312.5,517.4Z"/>
<path class="f" fill="#333333" d="M310.1,518.7 310.1,528 340.9,528.7 338.3,521.1 331.7,515.1 330.8,506.1 318.7,513Z"/>
<path class="f" fill="#d5d5e9" d="M311.1,519.3 311.1,527 339.5,527.7 337.5,521.7 330.7,515.6 329.9,507.7 319.3,513.8Z"/>
<path class="f" fill="#333333" d="M250.1,481.4 250.1,509.6 260.9,511.1 272.4,512.4 283.1,512.4 289.2,508.9 290,488.6 276.9,481.4Z"/>
<path class="f" fill="#acabd2" d="M251.1,482.4 251.1,508.7 261.1,510.1 272.4,511.4 282.9,511.4 288.2,508.3 288.9,489.2 276.6,482.4Z"/>
<path class="f" fill="#333333" d="M259.8,491.6 250.6,487.5 251.4,509.2 268.4,509.9 272.9,505.5 268,495.7Z"/>
<path class="f" fill="#bbbcdb" d="M259.3,492.5 251.6,489.1 252.4,508.2 268.1,508.9 271.7,505.3 267.3,496.5Z"/>
<path class="f" fill="#333333" d="M286.5,490.6 284.9,511.8 293.1,511.8 294.5,506.7 300.7,504 299.8,493.9 294.5,488.6Z"/>
<path class="f" fill="#dfdfed" d="M287.4,491.4 286,510.8 292.3,510.8 293.7,506 299.6,503.4 298.9,494.4 294.2,489.7Z"/>
<path class="f" fill="#333333" d="M296.5,487.2 295.8,500.9 290.1,503.4 290.1,510.8 298.7,512.2 306.4,521.5 308.6,520.7 308.6,489.2Z"/>
<path class="f" fill="#b1b0d5" d="M297.4,488.4 296.8,501.6 291.1,504.1 291.1,509.9 299.3,511.3 306.8,520.3 307.6,520 307.6,490.1Z"/>
<path class="f" fill="#333333" d="M223,375.1 224.2,386.5 225.5,395.5 228,403.7 247.8,403.4 252,389.5 254.2,382.8 247.2,379.3 240.4,377 237.5,371.7 229.4,373.3Z"/>
<path class="f" fill="#bbbcdb" d="M224.1,375.9 225.2,386.4 226.5,395.3 228.7,402.7 247,402.4 251.1,389.2 252.9,383.3 246.8,380.2 239.7,377.8 237,372.8 229.7,374.3Z"/>
<path class="f" fill="#333333" d="M227.7,400.4 228.3,408 230.1,413 230.4,425.3 244.8,424.5 243.1,416.3 245.4,408.4 249.5,399.7Z"/>
<path class="f" fill="#aaa8d0" d="M228.7,401.4 229.2,407.8 231.1,412.8 231.4,424.2 243.6,423.6 242.1,416.3 244.4,408 247.9,400.8Z"/>
<path class="f" fill="#333333" d="M250.9,383.7 249,389.3 245.9,399.2 242.7,406.7 240,416.9 242.5,424.7 255,428.4 261.9,426.6 261.1,410.1 256.9,406.5 258.6,395.2 259.5,381.1Z"/>
<path class="f" fill="#b1b0d5" d="M251.7,384.5 249.9,389.6 246.8,399.5 243.7,407 241,416.9 243.3,423.9 255,427.3 260.8,425.8 260.1,410.6 255.9,406.9 257.6,395.1 258.4,382.5Z"/>
<path class="f" fill="#333333" d="M227.8,423.1 219.3,433.5 225.3,438.1 228.7,441.5 234.9,451.4 238.5,456.2 244.2,450.4 244.9,440 244.2,421.8Z"/>
<path class="f" fill="#8683bd" d="M228.3,424 220.8,433.4 226,437.3 229.5,440.9 235.7,450.8 238.6,454.6 243.2,450 243.9,440 243.2,422.9Z"/>
<path class="f" fill="#333333" d="M216.7,434.2 216.3,439.9 216.3,446.8 221.3,451.4 227,454.9 240.1,455.7 240.9,454.4 237.6,449.3 231.4,439.5 227.5,435.6 221.4,431.6Z"/>
<path class="f" fill="#aaa8d0" d="M217.6,434.8 217.3,440 217.3,446.4 221.9,450.6 227.3,453.9 239.6,454.7 239.7,454.4 236.8,449.9 230.6,440.1 226.9,436.4 221.3,432.7Z"/>
<path class="f" fill="#333333" d="M241.6,422.8 241.6,432.5 241.3,444.3 248.2,442.6 248.2,436.8 250.1,434 256.5,431.2 255.3,425.2Z"/>
<path class="f" fill="#9e9ac8" d="M242.6,424 242.6,432.5 242.3,443.1 247.2,441.8 247.2,436.4 249.4,433.2 255.3,430.6 254.4,426Z"/>
<path class="f" fill="#333333" d="M244.8,440.1 241.1,444.7 243.5,453.4 256.4,451.6 256.4,428.2 248.3,431.5 244.8,435.6Z"/>
<path class="f" fill="#ebe9f3" d="M245.8,440.5 242.2,444.9 244.2,452.3 255.4,450.7 255.4,429.7 248.9,432.3 245.8,436Z"/>
<path class="f" fill="#333333" d="M209.2,449 213.5,457.6 219,461.6 223.9,462.7 228.8,454.6 222.4,449.8 216.5,446.1Z"/>
<path class="f" fill="#dadaeb" d="M210.6,449.5 214.3,456.9 219.4,460.7 223.4,461.6 227.5,454.9 221.8,450.6 216.4,447.2Z"/>
<path class="f" fill="#333333" d="M225.4,453.1 220.8,460.8 223.8,464 234.6,472.2 240.1,470.3 242,465.1 240.5,459.3 237.4,454.5Z"/>
<path class="f" fill="#ebe9f3" d="M225.9,454.1 222,460.7 224.4,463.3 234.8,471.1 239.3,469.5 241,465.1 239.5,459.7 236.8,455.4Z"/>
<path class="f" fill="#333333" d="M238.3,452.3 236.8,460.3 238,464.9 236.6,468.8 241.9,477 243.8,476.7 245.7,469 247.1,460 245.4,449.8Z"/>
<path class="f" fill="#cecee5" d="M239.1,453.1 237.8,460.3 239,464.9 237.7,468.7 242.4,475.9 243,475.8 244.8,468.8 246,460 244.6,451.1Z"/>
<path class="f" fill="#333333" d="M244.2,451.1 244.2,463.2 249.7,468.9 257.6,463.6 258.5,451.1Z"/>
<path class="f" fill="#817ebb" d="M245.2,452.1 245.2,462.8 249.8,467.6 256.6,463 257.4,452.1Z"/>
<path class="f" fill="#333333" d="M245,464.9 243.2,469.3 240.5,474.8 241.9,486.2 251.2,491.6 254.1,484.1 257.6,482.6 257.6,461.2 256.4,460.6 250,464.9Z"/>
<path class="f" fill="#817ebb" d="M245.7,465.9 244.1,469.7 241.6,475 242.8,485.6 250.7,490.2 253.3,483.3 256.6,481.9 256.6,461.8 256.5,461.7 250.3,465.9Z"/>
<path class="f" fill="#333333" d="M255.5,451.1 254.7,464.6 264,464.6 264,451.1Z"/>
<path class="f" fill="#c2c3df" d="M256.4,452.1 255.8,463.6 263,463.6 263,452.1Z"/>
<path class="f" fill="#333333" d="M255.4,462.9 254.8,483.4 265.2,483.4 264.6,462.9Z"/>
<path class="f" fill="#e2e2ef" d="M256.4,463.9 255.8,482.4 264.2,482.4 263.6,463.9Z"/>
<path class="f" fill="#333333" d="M221.1,460.1 221.1,480.7 238.4,482.4 238.4,470.4 222.3,459.4Z"/>
<path class="f" fill="#f0eef5" d="M222.1,460.7 222.1,479.8 237.4,481.3 237.4,470.9 222.3,460.6Z"/>
<path class="f" fill="#333333" d="M205,473.7 223.4,479.2 223.4,461.7 212.8,458.8Z"/>
<path class="f" fill="#cecee5" d="M206.5,473.1 222.4,477.9 222.4,462.4 213.3,460Z"/>
<path class="f" fill="#333333" d="M256.1,392.4 256.1,403 263.4,404.3 264.4,408.8 274.7,413.4 284.5,411.8 284.5,399.6 279.8,398.4 281.1,386.4 279.9,385.6 270.4,390.6 264.7,391.7Z"/>
<path class="f" fill="#e2e2ef" d="M257.1,393.3 257.1,402.2 264.2,403.5 265.3,408.1 274.8,412.3 283.5,410.9 283.5,400.4 278.8,399.2 280,386.9 279.9,386.8 270.8,391.5 264.8,392.7Z"/>
<path class="f" fill="#333333" d="M254.5,400.1 253.4,409.8 258.7,412.9 263.7,416.7 275.3,422.5 282.9,416.2 285.7,407.9 275.3,409.8 266.7,406 265.4,401.3Z"/>
<path class="f" fill="#c9cae3" d="M255.4,401.2 254.5,409.2 259.2,412 264.3,415.8 275.2,421.3 282.1,415.6 284.2,409.2 275.2,410.8 265.9,406.7 264.6,402.2Z"/>
<path class="f" fill="#333333" d="M278.4,388.8 276.4,401.7 287.1,403.5 291,398 289.2,390.8Z"/>
<path class="f" fill="#f2f0f7" d="M279.2,390 277.5,400.9 286.6,402.4 289.9,397.8 288.4,391.7Z"/>
<path class="f" fill="#333333" d="M221.1,479.1 218.6,488.6 219.9,498.2 223.1,504.6 224.9,512.6 231.3,508.5 239.7,503.5 238.3,492.2 236.8,480Z"/>
<path class="f" fill="#b1b0d5" d="M221.8,480.2 219.6,488.7 220.9,497.9 224,504.2 225.6,511 230.7,507.7 238.6,503 237.3,492.3 235.9,480.9Z"/>
<path class="f" fill="#333333" d="M235.5,478.8 235.5,496.7 245.8,498.2 253.3,500.3 253.3,491.5 250.2,489.7 243.9,483.4Z"/>
<path class="f" fill="#6f5ca9" d="M236.5,480.5 236.5,495.8 246,497.2 252.3,499 252.3,492.1 249.6,490.5 243.3,484.2Z"/>
<path class="f" fill="#333333" d="M236.1,494.6 236.1,506 241.5,504.4 242.6,506.5 253.3,505.7 253.3,498.9 248.6,498.2 247.9,495.6Z"/>
<path class="f" fill="#dadaeb" d="M237.1,495.7 237.1,504.6 242,503.2 243.2,505.5 252.3,504.8 252.3,499.8 247.8,499.1 247.1,496.6Z"/>
<path class="f" fill="#333333" d="M251.1,481.6 251.1,493.4 256.9,493.4 261.2,496.6 268.4,503.9 272.6,512.1 283.2,511.3 288.1,507.3 289.5,498.8 288.2,486.4 277.6,485 276.3,483Z"/>
<path class="f" fill="#aaa8d0" d="M252.1,482.6 252.1,492.4 257.3,492.4 261.8,495.8 269.2,503.3 273.2,511.1 282.8,510.4 287.2,506.7 288.5,498.8 287.3,487.3 277.1,485.9 275.8,484Z"/>
<path class="f" fill="#333333" d="M251,490.5 251.8,507.7 259.8,510.2 270.8,508.4 268,498.9 258.1,490.5Z"/>
<path class="f" fill="#b1b0d5" d="M252,491.5 252.8,506.9 259.9,509.2 269.5,507.6 267.1,499.5 257.8,491.5Z"/>
<path class="f" fill="#333333" d="M256.7,492.1 259.8,501.1 269.5,501.1 270.3,498.6 258.7,490.6Z"/>
<path class="f" fill="#8683bd" d="M257.9,492.5 260.5,500.1 268.7,500.1 269.1,499 258.8,491.8Z"/>
<path class="f" fill="#333333" d="M258,506.7 258,512 275.7,512.9 276.4,511.7 272.9,506Z"/>
<path class="f" fill="#817ebb" d="M259,507.7 259,511.1 275.1,511.9 275.2,511.7 272.4,507.1Z"/>
<path class="f" fill="#333333" d="M251.5,507.7 252.5,519.9 258.3,523.4 268.7,521.2 271,519 272.4,520 272.4,544.5 293.3,544.5 290.7,539.1 286.9,528.8 281.7,522.3 276.9,515.1 274.5,509.3 260.2,508.6Z"/>
<path class="f" fill="#b1b0d5" d="M252.6,508.8 253.4,519.3 258.5,522.4 268.2,520.3 270.9,517.7 273.4,519.5 273.4,543.5 291.7,543.5 289.8,539.5 286,529.3 280.9,522.9 276,515.6 273.8,510.3 260.1,509.6Z"/>
<path class="f" fill="#333333" d="M251.5,518.2 254.4,527.1 257.5,533.8 263.3,531.9 266,530.8 267.4,533.7 275.1,535 275.1,519.3 270.7,514.6 266.4,518.2 259,519.7 253,516.9Z"/>
<path class="f" fill="#d5d5e9" d="M252.7,518.5 255.3,526.8 258,532.6 263,530.9 266.5,529.5 268.1,532.8 274.1,533.8 274.1,519.7 270.6,516 266.9,519.1 258.9,520.8 253.1,518.1Z"/>
<path class="f" fill="#333333" d="M257.6,531.5 260.3,543.9 275.1,543.9 275.1,532 269.5,531.3 267.2,526.5Z"/>
<path class="f" fill="#817ebb" d="M258.8,532 261.1,542.9 274.1,542.9 274.1,532.9 268.8,532.2 266.8,527.8Z"/>
<path class="f" fill="#333333" d="M285,489.9 290.9,495.2 292.3,498.8 288.5,500.8 284.5,511.1 295.1,512 307.2,519.5 308.3,518.9 308.3,494.9 299.6,491.9 286.8,486.9Z"/>
<path class="f" fill="#aaa8d0" d="M286.3,489.7 291.7,494.6 293.6,499.3 289.3,501.5 285.9,510.2 295.4,511 307.2,518.3 307.3,518.3 307.3,495.6 299.2,492.8 287.2,488.1Z"/>
<path class="f" fill="#333333" d="M286.9,493.5 285.4,506.8 291,513.1 293.1,506.7 300.3,505.3 298.1,499.1 294.9,491.2Z"/>
<path class="f" fill="#e2e2ef" d="M287.8,494.3 286.4,506.5 290.6,511.1 292.3,505.8 299,504.6 297.2,499.5 294.3,492.4Z"/>
<path class="s" d="M77,152.8 81,265 81,284 79.5,285 79.5,296 81,298 81,431.2 48.7,432 46,472 43,500 44,506 155,509 155,610 152.5,617 152.5,753.9 152.7,754 160,747.5 173.8,737.5 180,725 186.2,713.8 192.5,707.5 207.5,696.2 216.2,677.5 216.2,665 217.5,655 219.5,646.2 228.8,641.2 232.5,632.5 245,615 255,601.6 255.6,592.5 255.6,586.2 257.5,580 262.5,577.5 265.6,574.4 263.8,568.1 262.5,561.2 261.9,552.5 261.2,542.9 261.1,542.9 261,542.3 257.5,543.1 256.9,550 250,551.2 244.4,553.8 243.1,560 244.4,563.1 248.8,561.9 249.4,565 243.8,568.1 243.1,573.1 240.6,572.5 237.5,566.2 236.9,561.9 221.2,561.9 220.6,557.5 215,557.5 214.4,528.1 218.8,530 225,529.4 226.9,534.4 231.9,541.9 237.5,538.8 242.5,536.2 243.1,530 248.1,526.2 253.8,526.9 255.2,528.3 255.8,527.8 255.3,526.8 252.7,518.5 253.3,517.9 252.6,508.9 251.1,508.7 251.1,504.9 243.2,505.5 242,503.2 237.1,504.6 237.1,503.9 237.1,503.9 230.7,507.7 225.6,511 224,504.2 220.9,497.9 219.6,488.7 221.8,480.2 222.1,480.2 222.1,477.8 206.5,473.1 213.3,460 219.4,461.6 219.8,460.9 214.3,456.9 210.6,449.5 216.4,447.2 217.7,448 218.3,447.2 217.3,446.4 217.3,445 212.5,446.9 207.4,445.6 203.8,445.6 198.7,446.2 197.6,445.9 197.3,446.3 198.2,447.4 196.8,452.8 193,457.9 190.4,460.4 189.1,457.3 185.4,460.4 181.7,465.4 176.5,469.4 172.1,469.4 169.5,462.8 166.9,458.6 166.1,458.9 166.9,462.6 165.1,466.2 164.8,466.2 164.1,464.4 163.3,464.6 163.8,470.3 161.4,471.9 154.7,470.5 152.5,467.7 153.2,452.3 154.4,449.9 154.4,433.2 182.8,432.5 185.3,435.6 189.9,435.6 195.9,433.3 199.5,428.5 201,423.9 205,427.9 205.4,427.8 205,423.1 212.7,423.1 212.7,423.1 209.4,417.7 208.2,411.3 207.5,405.4 211,401.3 211.7,401.3 209.9,390.4 206.9,381.9 202.2,378.5 198.6,374.3 198,353.1 193.9,353.3 193.2,350.1 185.5,349.4 185.5,343.3 191.5,341.9 192.5,340 190.7,340 190.7,318.6 192.3,314.3 183.2,313.7 183.2,301.3 190.4,300.7 190.4,294.9 182.1,294.6 182.5,285.2 183.8,284.8 183.2,263.7 178.2,263 178.2,248.7 178.9,246.3 225,246.3 225,241.3 224.9,241.3 221.2,243.8 215.6,243.1 214.4,236.2 212.5,231.9 205.6,227.5 202.5,225.6 198.1,228.8 185.6,228.8 178.8,231.2 175.2,232.2 176,215 191.2,215 191.2,191.9 182.8,191.9 182.8,185.6 186.2,184.4 186.9,180.6 190.6,175.6 195,176.9 196.9,174.4 204.4,175 205,180.6 209.4,183.1 210,186.9 215,186.9 217.8,188 216.9,177.5 215.9,167.5 216.9,160 218,153ZM236.3,454.5 236.3,454.6 238,457.3 238.4,457.3 238.9,454.6ZM216.2,439.8 217.4,439.8 217.6,435.3 217.6,435.3 216.2,436.1ZM291.4,253.8 291.9,253.8 291.2,260.1 288.1,272.5 289.3,279.8 291.9,284.9 291.2,290.9 286.8,295.3 284.2,301.9 276.9,301.9 273.7,302.4 273.7,332.6 272.7,337.6 272.8,337.6 281.1,333.8 291.4,334.4 295.2,336.9 300.7,336.9 300.7,336.9 301.3,336.9 302,336.9 304.4,333.5 305.1,328.5 297.4,326.8 293.8,326.2 291.4,327.5 283.3,327.5 282.5,323.6 285.9,318.9 294.5,316.4 296.4,310.2 300,308.6 300.2,308.1 301.1,308.1 301.4,308 301.5,308.1 323,308.1 323,278 338.2,278 338.2,250.8 354.5,250.8 354.5,215 393,215 396.2,217 401.2,214.5 435,215 435,218.8 432.5,221.2 432.5,248.4 432.8,248.5 435,246.2 488.8,246.2 490.5,250 492.5,257.5 493,265 493,340 616.2,340 616.2,340 617,340.5 770.5,340 878.8,340 878.8,354.5 895,354.5 896,307 896.2,153.8 299.4,153.1 299,162.5 296.2,170 295,184.4 295.6,192.5 297.5,200 298.1,207.5 302.5,212.5 302.9,227.5 300.6,232.5 300,241.2 296.2,247.5 292.5,250ZM347.6,387.5 342.3,387.5 342.2,388.2 345.4,389.5 347,391.9 347.3,391.8 347.7,388.7 348.9,388.3 348.9,388.3 356.9,385.7 358,386.5 358.1,386.5 358.1,385.6 370,385.6 370,398.1 369.1,398.1 369.1,431.8 381.9,431.1 386.7,436.7 390,432.5 420,380 458.4,340.3 458.3,340 456.2,340 447.5,338.8 437.5,351.2 432,352.6 432,355 412.5,355.5 375,354.5 363,354.8 363.7,365.3 360.4,367.9 358,370.4 358.1,370.6 358.8,370.6 358.1,377.6 356.8,384.2ZM329.5,573.5 328.7,574 331.2,578.8 327.3,582.2 327.7,582.9 332.7,581.2 336.1,585.9 337,585.3 332,576.6ZM327.8,570.1 326.9,570.6 328.4,573.5 328.5,573.5 329.2,572.1ZM319.9,560.2 321.4,560.1 321.7,558.1 321.6,558 319.1,559.3ZM303.1,383.7 303.5,385.2 309.4,385.2 309.9,380.8 309.9,380.7 303.9,383.7ZM245.2,465.9 247.8,465.9 247.9,465.6 245.7,463.3 245.5,463.4ZM282.9,381.4 281.7,384.5 282.2,384.8 285.5,382.3 285.5,382.2ZM276,365.5 275.8,365.7 276.6,369 279.3,367.2ZM237.4,470.2 237.4,473.8 241.3,474.9 241.5,474.6 238.4,469.8ZM339,376.9 342,376.9 341.3,371.9 339.1,371.9 339.1,372.3 338.9,372.2 338.2,376.1ZM318.8,374.5 318.8,375 322.2,376.7 322.5,376.3 321.9,375.1 321.9,373.9ZM423.9,632.1 423.5,631.7 420.6,633.1 420.3,636.4 420.9,636.6ZM414.7,619.9 414.6,620.1 416.5,622.5 417.4,621.9 416.2,619.9ZM433.5,678.1 433.4,678.2 431.9,686.9 432.1,687 435,685 435.5,680ZM357,621.5 356.8,621.5 355.9,623.4 357.8,625 358.4,624.6ZM296.2,170 299,162.5 299.4,153.1 245,153.1 245,183.8 246.2,191.2 261.2,191.2 266.9,190 271.9,184.4 295,184.4ZM217.9,188 218.1,188.1 218.8,191.2 246.2,191.2 245,183.8 245,153.1 218.1,152.5 216.9,160 215.9,167.5 216.9,177.5 217.8,187.5ZM292.5,250 296.2,247.5 300,241.2 300.6,232.5 302.9,227.5 302.5,212.5 298.1,207.5 297.5,200 295.6,192.5 295,184.4 271.9,184.4 266.9,190 261.2,191.2 218.8,191.2 220.6,198.8 221.2,208.1 284.4,208.1 284.4,253.8 291.4,253.8ZM284.4,208.1 221.3,208.1 223.1,216.2 224,223.8 227.4,230.2 250.6,230.2 262.5,230.6 270.6,232.5 276.2,233.1 284.4,230ZM227.4,230.2 229.2,233.8 234.5,243.8 235.6,245.7 236.2,245.6 237,247.2 240.5,254.7 244.1,259.4 246.2,258.1 248.8,253.1 255.6,251.9 255,243.8 253.1,238.7 250,233.8 250.6,230.2ZM244.1,259.4 246,263.1 247.5,263.1 263.6,262.5 270.8,259.5 272.1,257 279.9,254.4 284.4,253.8 284.4,230 276.2,233.1 270.6,232.5 262.5,230.6 250.6,230.2 250,233.8 253.1,238.8 255,243.8 255.6,251.9 248.8,253.1 246.2,258.1ZM215,186.9 210,186.9 209.4,183.1 205,180.6 204.4,175 196.9,174.4 195,176.9 190.6,175.6 186.9,180.6 186.2,184.4 182.8,185.6 182.8,191.9 191.2,191.9 191.2,215 176,215 175.2,232.3 178.8,231.2 185.6,228.8 198.1,228.8 202.5,225.6 205.6,227.5 212.5,231.9 214.4,236.2 215.6,243.1 221.2,243.8 225,241.2 225,245.6 230.6,245.9 235.6,245.7 234.5,243.8 224,223.8 223.1,216.2 221.2,208.1 220.6,198.8 218.8,191.2 218.1,188.1ZM432.5,221.2 435,218.8 435,215 401.2,214.5 396.2,217 393,215 354.5,215 354.5,293 385,293.5 416.2,293 416.2,300.8 432,301.2 432.5,248.8ZM354.5,250.8 338.2,250.8 338.2,278 323,278 323,308.1 354.5,308.1ZM354.5,293 354.5,352.2 355.2,352.4 357.5,347.5 365,337.5 372.5,330 380,320 381.2,312.5 384.5,306.2 385,293.5ZM385,293.5 384.5,306.2 381.2,312.5 380,320 372.5,330 365,337.5 357.5,347.5 354.5,353.8 354.5,355 375,354.5 412.5,355.5 432,355 432,301.2 416.2,300.8 416.2,293ZM471.2,325 456.5,339.7 456.6,340 493,340 493,265 492.5,257.5 490.5,250 488.8,246.2 435,246.2 432.5,248.8 432.5,316.2 447.5,313.8 457.5,314.2 462.5,318.8 466.2,323.8ZM432.5,316.2 432.5,352.5 437.5,351.2 447.5,338.8 456.2,340 471.2,325 471.2,325 466.2,323.8 462.5,318.8 457.5,314.2 447.5,313.8ZM420,763.7 420,763.7 416.2,772.5 421.2,780 421.2,795 427.5,803.8 428,805.7 894.5,803.5 894.5,354.5 878.8,354.5 878.8,340 770.5,340 616.2,340.5 616.2,510 616.4,510.2 618,512.5 618,619.5 416.2,620 416.2,620 420,626.2 424.5,631.2 421.2,636.2 419.5,648.7 417,653.7 417.6,659 419.6,664.1 423.7,668 423.7,668.2 424.4,668.8 423.1,672.5 427.5,673.8 433.8,676.2 433.4,678.1 435.5,680 435,685 431.8,687.2 429.5,700 422.5,703.8 418.8,710 421.2,713.8 415,718.8 408,727.5 410,733.7 412.5,740 411.2,747.5 416.2,755 417,760 420,763.7ZM616.2,340 477.5,340 477.5,464.5 616.2,464.5ZM477.5,340 458.7,340 420,380 390,432.5 386.7,436.7 387,437.1 385.2,438.5 385,438.8 384.7,438.9 375.9,446.1 371.4,449.5 370.8,461.5 382.5,465 396.2,468.2 405,467.5 413.8,463.8 425,464.5 477.5,464.5ZM369.4,465 369.1,465.8 368.2,465.8 368.8,480 376.3,491.2 387.5,503.1 388.8,508.8 393.1,513.8 392.5,520 390,525 388.7,525.9 388.7,551.6 398.7,561.6 398.7,570.1 397.8,571.9 403.2,571.9 403.8,568.3 408.2,566.8 413.1,569.6 413.8,575.3 409,578.1 404.1,579.3 401.3,582.6 403.2,586.2 400.5,592.8 398.9,595 402,600 398.7,605.1 399.4,612.9 393.1,615.4 393.1,620 618,619.5 618,557.5 617.5,512.5 616.2,510 616.2,464.5 425,464.5 413.8,463.8 405,467.5 396.2,468.2 382.5,465 370.8,461.5 369.6,464.6 369.5,465ZM335.3,478.9 330.8,490.3 330.8,498.9 330.1,498.9 330.1,509.9 330.7,515.6 337.5,521.7 339.5,527.7 337.5,527.7 337.5,532.1 338.1,537.3 340.9,541.3 362.7,541.9 368.3,546.3 378.9,545.7 380.1,539.8 382.6,536 384.5,525.7 384.4,525.6 390,525 392.5,520 393.1,513.8 388.8,508.8 387.5,503.1 376.2,491.2 368.8,480 368.2,465.8 352.5,465.2 337.9,465.8 337.6,467.1 337.6,475.4ZM428,805.8 427.5,803.8 421.2,795 421.2,780 416.2,772.5 420,763.8 417,760 416.2,755 411.2,747.5 412.5,740 410,733.8 408,727.5 415,718.8 421.2,713.8 418.8,710 422.5,703.8 429.5,700 433.8,676.2 427.5,673.8 423.1,672.5 424.4,668.8 420,665 417.5,658.8 416.9,652.5 418.8,647.5 420,640 420.6,633.1 424.4,631.2 420,627.5 417.5,623.8 415,620.6 387.9,620.1 384.9,620.5 384.3,632.9 373.1,632.9 364.7,632.5 363.6,631.3 362.5,635 365,641.2 368.8,656.2 371.2,670 372.5,675 378.8,710 381.2,733.8 401.2,763.8 415,800 416.2,805.8ZM347.3,641.1 340.8,645.7 340,646.9 323.8,648.1 323.8,652.5 316.2,653 316.2,667.5 314.7,670.8 316.2,673.8 316.2,697 339.5,697.5 340,715 340,806.2 416.3,805.8 415,800 401.2,763.8 381.2,733.8 378.8,710 372.5,675 371.2,670 368.8,656.2 365,641.2 362.5,635 363.6,631.2 357.9,631.2 355,628.9 352.4,630.9 351.8,636.4 350.5,640.5ZM254.5,602.3 245,615 232.5,632.5 228.8,641.2 219.5,646.2 217.5,655 216.2,665 216.2,677.5 207.5,696.2 192.5,707.5 186.2,713.8 180,725 173.8,737.5 160,747.5 153,753.8 152.5,806.2 340,806.2 340,715 339.5,697.5 316.2,697.5 316.2,673.8 314.5,670.5 316.2,667.5 316.2,653 323.8,652.5 323.8,648 340,646.2 346.1,641.9 341.9,631.5 337.5,620.2 335.7,610.1 333.2,600.2 330.7,591.5 328.3,587.2 325.2,584.2 326.6,583.5 323.1,580 316.2,572.5 308.8,563.8 300,553.8 292.5,545 290,543.5 273.4,543.5 273.4,543.1 261.2,543.1 261.9,552.5 262.5,561.2 263.8,568.1 265.6,574.4 262.5,577.5 257.5,580 255.6,586.2 255.6,592.5 255.1,600.7 255.6,600.9 256.2,600 254.7,602.4ZM274.9,512.3 277.6,517.9 280.9,522.9 286,529.3 289.8,539.5 291.7,543.5 291.1,543.5 291,544.1 292.5,545 300,553.8 308.8,563.8 316.2,572.5 323.1,580 326.2,583.1 331.2,578.8 323.1,563.7 319.1,559.3 318.6,559.5 304.4,541.5 304.4,539.4 304,539.4 304.4,538.6 304.4,538.2 304.6,538.2 306.3,534.9 306.3,531.3 305,518.1 295.1,511 292.6,510.8 290.7,510.8 290.6,511.1 290.3,510.8 286,510.8 286,510.3 285,510.2 282.9,511.4 275.4,511.4ZM214.4,528.1 215,557.5 220.6,557.5 221.2,561.9 236.9,561.9 237.5,566.2 240.6,572.5 243.1,573.1 243.8,568.1 249.4,565 248.8,561.9 244.4,563.1 243.1,560 244.4,553.8 250,551.2 256.9,550 257.5,543.1 260,542.5 258.8,535 255.6,528.8 253.8,526.9 248.1,526.2 243.1,530 242.5,536.2 237.5,538.8 231.9,541.9 226.9,534.4 225,529.4 218.8,530ZM183.2,263.7 183.8,284.8 187.1,283.7 189.9,287.3 190.5,291.9 194.3,292.2 194.9,296.8 198.6,296.3 209.9,293.8 224.8,293.2 227.8,290.7 235.9,288 239.9,294.1 242.5,299.8 243.7,310 242.5,318.9 240.6,323.9 240.6,338.7 243.4,340.8 260.3,354.1 262.6,347 265.2,346 266.3,344.7 267,343.4 271.5,338.3 272.7,337.7 273.7,332.6 273.7,315.9 273.3,315.8 271.6,318.1 265.8,318.1 263.2,307.6 260.7,296.5 254.5,285.3 246.9,267.7 245.4,263.1 246,263.1 244.3,259.7 240.5,254.7 237,247.2 236.2,245.6 225,246.3 178.9,246.3 178.2,248.7 178.2,263ZM182.1,294.6 190.4,294.9 190.4,300.7 183.2,301.3 183.2,313.7 192.3,314.3 190.7,318.6 190.7,340 192.5,340 192.9,339.2 240.6,338.6 240.6,323.9 242.5,318.9 243.7,310 242.5,299.8 239.9,294.1 235.9,288 227.8,290.7 224.8,293.2 209.9,293.8 198.6,296.3 194.9,296.8 194.3,292.2 190.5,291.9 189.9,287.3 187.1,283.7 182.5,285.2ZM245.4,263.1 246.9,267.7 254.5,285.3 260.7,296.5 263.2,307.6 265.8,318.1 271.6,318.1 273.7,315.2 273.7,302.4 276.3,302 276.3,294.9 273.2,294.2 272.6,285.4 266.6,282.8 269.4,278.6 268.2,271.7 261.8,269.1 263.3,262.5 247.5,263.1ZM263.2,262.7 261.8,269.1 268.2,271.7 269.4,278.6 266.6,282.8 272.6,285.4 273.2,294.2 276.3,294.9 276.3,301.9 284.2,301.9 286.8,295.3 291.2,290.9 291.9,284.9 289.3,279.8 288.1,272.5 291.2,260.1 291.9,253.8 284.3,253.8 279.9,254.4 272.1,257 270.8,259.5ZM332.9,337.6 333.7,338.4 333.6,338.5 336.8,342.2 338.7,348.6 339.1,354.4 339.1,354.4 339.1,355 339.1,355.6 340.6,355.6 354.4,355.2 354.4,308.1 302,308.1 301.8,308.5 318.5,323.9 318.9,322.5 336,321.9 342.1,316.5 343.7,319.9 343.7,333.6 337.7,334.9ZM318.5,323.9 319.2,324.6 319.5,324.9 319.5,324.9 332.7,337.5 332.7,337.5 332.9,337.6 337.7,334.9 343.7,333.6 343.7,319.9 342.1,316.5 336,321.9 318.9,322.5ZM283.3,327.5 291.4,327.5 293.8,326.2 297.4,326.8 305.1,328.5 305.1,328.2 317.1,326.9 318.6,324 301.4,308 296.4,310.2 294.5,316.4 285.9,318.9 282.5,323.6ZM304.4,333.5 302,336.9 302,336.9 311.3,337.5 311.3,337.4 311.9,337.5 312.5,337.6 312.5,337.6 322.5,339.4 332.6,337.5 332.6,337.4 318.6,324 317.1,326.9 305.1,328.2ZM265.7,346 269.6,350.6 280,350 286.4,350.7 291.9,352.9 291.9,348.9 296.5,348.2 300,343.5 300.7,336.9 295.2,336.9 291.4,334.4 281.1,333.8 271.5,338.3 267,343.4ZM262,349.7 260.8,354.4 261.4,355 261,363.1 272.9,363.1 274.1,364.3 275.5,364.4 275.7,365.4 279.3,367.2 279.8,366.9 287.7,366 290.4,365.5 291.2,363.8 290.3,362 297.7,361.3 298.1,359.9 297.6,355.5 291.9,354.2 291.9,352.9 286.4,350.7 280,350 269.6,350.6 265.7,346ZM296.7,348 296.7,348.1 300.3,348.1 303.1,352.3 303.7,357.5 307,357.5 308.2,351.1 310.7,346.1 311.3,337.5 300.7,336.9 300,343.5ZM310.7,346.1 308.2,351.1 307,357.5 308,357.5 309.3,362.3 310.8,365.3 311.2,365.2 312,362.2 315.9,357.6 321.5,354.8 319.4,352.8 318.8,347.4 320.7,344.1 322.1,339.3 311.3,337.4ZM320.7,344.1 318.8,347.4 319.4,352.8 321.5,354.8 322.4,354.4 339.1,354.4 338.7,348.6 336.8,342.2 332.7,337.5 322,339.5ZM258.9,382.4 258.9,392 262.4,392.9 264.8,392.7 270.8,391.5 280.6,386.4 280.5,386.1 281.4,385.4 282.9,381.4 282.2,381.2 278.3,377.9 275,373.9 275.7,369.6 276.6,369 275.5,364.4 261,363.1 260.8,367.6 259.5,381.9ZM275,373.9 278.3,377.9 282.2,381.2 285.6,382.3 286.1,381.9 291.9,382.5 292.4,373.4 291.8,365.6 279.8,366.9 275.7,369.6ZM290.3,362 291.4,364.2 310.4,368.2 311.1,365.8 309.3,362.3 308,357.5 303.7,357.5 303.8,358.4 297.6,363 297.2,362.7 297.7,361.3ZM291.9,348.9 291.9,354.2 297.6,355.5 298.1,359.9 297.2,362.7 297.6,363 303.8,358.4 303.1,352.3 300.3,348.1 296.8,348.1ZM292.5,370.6 303.8,371.9 310.9,371.3 311.5,370.4 310.4,368.2 291.8,364.2ZM291.9,382.5 292.5,382.5 303,383.2 303.1,383.7 303.9,383.7 309.9,380.7 310.1,379.8 313.5,375.6 310.1,371.4 303.8,371.9 292.6,370.6ZM315.9,357.6 312,362.2 310.6,367.6 311.8,370 314.6,365.8 320,363.1 325.1,365.6 332.7,365.6 336.6,369.5 338.1,370.4 338.1,355.7 339.1,355.6 339.1,354.4 322.4,354.4ZM310.5,371.9 313.5,375.7 321.9,373.9 321.9,372.7 325,371.9 328.9,372.5 336.6,374.5 338.1,376 338.2,376 339,371.9 338.1,371.9 338.1,370.4 336.6,369.5 332.7,365.6 325.1,365.6 320,363.1 314.6,365.8ZM309.4,385.2 310.6,385.2 308.2,391.2 311,396.9 312,399 314.8,399.3 319.6,394.6 324.4,388.5 325.6,382.4 324.7,380.6 324.5,380.3 322.8,377 318.9,375 313.4,375.7 310.1,379.8ZM282.1,389.2 286.2,391.3 288.4,391.7 288.6,392.5 292.9,394.6 298,395.9 300.3,394.3 303.6,385.5 303,383.2 292.5,382.5 286.1,381.9 280.5,386.1ZM321.9,375.1 324.5,380.3 326.6,382.9 338.4,376.3 336.6,374.5 328.9,372.5 325,371.9 321.9,372.7ZM319.9,401.7 322.3,401.1 322.3,401.8 338.1,405.4 338.1,378 338,376.5 327,382.7 324.5,388.4 319.6,394.6 315,399.2 315,399.3 319.7,399.9ZM338.1,405.4 338.5,405.5 338.5,406.3 342.9,404.2 346.3,400.8 347.1,393.6 347.3,392.3 345.4,389.5 340.3,387.5 338.1,387.5ZM338.1,371.9 341.3,371.9 341.9,376.6 342.5,376.9 345,376.9 353.4,375.7 355.9,370.6 357.7,370.6 360.4,367.9 363.7,365.3 363.1,355 338.1,355.7ZM338.1,376.9 338.1,387.5 347.6,387.5 356.8,384.2 358.1,377.6 358.8,370.6 355.9,370.6 353.4,375.7 345,376.9ZM358.1,386.6 359.8,387.8 359.8,396 363.9,396.6 364.3,397.7 370,397.7 370,385.6 358.1,385.6ZM369.2,603.1 381.6,603.1 385.8,598.4 390.7,591 393.8,583.6 395.7,574.9 396.4,571.9 397.8,571.9 398.7,570.1 398.7,561.6 388.7,551.6 388.7,525.6 384.5,525.6 382.6,536 380.1,539.8 378.9,545.7 368.7,546.2 369.4,573.1 361.9,573.1 365.5,582 368.7,583.3 368.7,589 366.9,591.4 367.5,601.1 368.9,603.1ZM306.3,534.9 304.6,538.2 321.9,537.5 321.9,537.1 322.2,537 322.7,537.5 323.1,537.5 323.1,537.9 335.2,549.4 346.9,549.4 346.9,558.9 356.6,562 360.6,566 362,573.1 369.4,573.1 368.7,546.6 362.7,541.9 340.9,541.3 338.1,537.3 337,527.6 311.1,527 311.1,526.4 306.3,526.4ZM304.4,541.5 318.6,559.5 321.7,557.9 321.9,556.8 321.9,537.5 304.4,538.2ZM322.2,537 321.9,537.1 321.9,556.8 321.4,560.1 328.1,559.5 327.5,556 333.3,552.1 334.8,549ZM333.3,552.1 327.5,556 328.1,559.5 320.8,560.1 329.5,572.5 345,571.9 352.5,572.5 361.9,572.5 360.6,566 356.6,562 346.9,558.9 346.9,549.4 334.6,549.4ZM154.4,449.7 163.5,444.5 170,441.9 176.3,443.8 182.4,443.2 192.7,441.9 195.4,443.9 196.7,445.6 198.7,446.2 203.1,445.7 204.4,434.9 205.1,432.1 204.3,427.2 201,423.9 199.5,428.5 195.9,433.3 189.9,435.6 185.3,435.6 182.8,432.5 154.4,433.2ZM154.5,449.6 153.2,452.3 152.5,467.7 154.7,470.5 161.4,471.9 163.8,470.3 163.1,462.4 160.7,456.4 161,456.1 164.8,466.2 165.1,466.2 166.9,462.6 165.9,457.6 166.4,457.9 169.5,462.8 172.1,469.4 176.5,469.4 181.7,465.4 185.4,460.4 189.1,457.3 190.4,460.4 193,457.9 196.8,452.8 198.2,447.4 195.4,443.9 192.7,441.9 182.4,443.2 176.3,443.8 170,441.9 163.5,444.5ZM205,423.1 205.6,430 204.4,434.9 203.1,445.6 207.4,445.6 212.5,446.9 216.2,445.4 216.2,434.9 214.3,428.5 211.6,423.1ZM208.2,411.3 209.4,417.7 213.2,424 216.5,435.9 217.6,435.3 217.6,434.8 221.2,432.8 228.3,424 230.8,423.8 231.4,423.5 231.1,412.8 229.2,407.8 228.9,403.6 228.5,402.6 211.9,402.6 211.6,400.8 211.4,400.7 207.5,405.4ZM395.7,574.9 393.8,583.6 390.7,591 385.8,598.4 381.6,603.1 377.5,603.1 376.8,611.9 372.6,611.2 368,613 365.6,622.7 362.9,628 360.3,628.9 359,626 356.7,624.1 355.6,626 355.6,628.4 355,628.9 357.9,631.2 363.5,631.2 364.7,632.5 373.1,632.9 384.3,632.9 384.9,620.5 393.1,619.3 393.1,615.4 399.4,612.9 398.7,605.1 402,600 398.9,595 400.5,592.8 403.2,586.2 401.3,582.6 404.1,579.3 409,578.1 413.8,575.3 413.1,569.6 408.2,566.8 403.8,568.3 403.2,571.9 396.4,571.9ZM325.2,584.2 328.3,587.2 330.7,591.5 333.2,600.2 335.7,610.1 337.5,620.2 341.9,631.5 345.9,641.3 350.5,640.5 351.8,636.4 352.4,630.9 355.6,628.4 355.6,625 354.9,625 343.1,601.4 343.1,598.3 340.5,592.2 332.7,581.2 328.5,582.6ZM328.9,572.6 328.9,572.7 332,576.6 337,585.3 340.8,592.4 342,592.7 343.1,592.2 341.8,584.6 347.9,582.2 346.8,579.9 350.7,575.9 352.1,572.5 345,571.9ZM343.1,596.9 352.5,596.3 353.2,593.6 356.9,584.9 357.6,572.5 352.1,572.5 350.7,575.9 346.8,579.9 347.9,582.2 341.8,584.6 343.1,592.2 341.8,592.8ZM352.5,596.3 353.1,596.2 353.1,602.6 356.9,603.1 368.8,603.1 368.8,603.1 367.5,601.1 366.9,591.4 368.7,589 368.7,583.3 365.5,582 361.7,572.5 357.6,572.5 356.9,584.9 353.2,593.6ZM343.1,601.4 354.9,625 355.1,625 356.9,621.3 356.9,603.1 353.1,602.6 353.1,596.2 343.1,596.9ZM356.9,603.1 356.9,621.4 360.3,628.9 362.9,628 365.6,622.7 368,613 372.6,611.2 376.8,611.9 377.5,603.1ZM254.7,427.4 255.2,429.8 255.4,429.7 255.4,439.9 262.4,439.9 262.4,438.6 275.5,438.6 275.5,431.2 275,431.4 273.6,426.6 260.1,426.6 260.1,426ZM237.4,473.8 237.4,481 242.5,483.8 242.6,483.7 241.6,475ZM185.5,349.4 193.2,350.1 193.9,353.3 198,353.1 197.9,351.9 204.5,351.2 203.2,348.1 208.6,345.4 215.7,347.5 219.4,351.2 231.6,352.4 240.2,355.7 243.8,360 245.3,366.7 244.3,367.7 244.9,368.8 248.1,371 251.2,380.5 254.4,383.7 259.1,382.2 259.5,381.9 260.8,367.6 261.4,355 243.4,340.8 240.5,338.6 192.9,339.2 191.5,341.9 185.5,343.3ZM204.5,351.2 206.1,351 208.5,353.4 213.6,359.2 217,364.7 218.2,364.8 218.3,366.8 219.7,366.1 232,367.3 234.6,364.6 243.1,367.5 243.9,368.1 245.3,366.7 243.8,360 240.2,355.7 231.6,352.4 219.4,351.2 215.7,347.5 208.6,345.4 203.2,348.1ZM198.6,374.3 202.2,378.5 206.2,381.4 206.6,381.1 206.4,380.5 214.3,377.1 215.3,369.2 214.7,368.9 214.7,368.6 215.4,368.2 215.8,364.6 216.9,364.7 216.9,364.6 213.6,359.2 208.5,353.4 206.1,351 197.9,351.9ZM251.2,380.5 248.1,371 243.1,367.5 234.6,364.6 232,367.3 219.7,366.1 218.6,366.6 225.7,373.7 225.9,375.4 229.7,374.3 237,372.8 239.7,377.8 246.8,380.2 252.8,383.2 253.3,382.5ZM209.9,390.4 211.9,402.6 228.7,402.6 227.6,398.9 223,396.2 217.6,392.6 217.3,366.3 218.2,365.9 218.2,364.8 215.8,364.6 214.3,377.1 206.4,380.5ZM217.6,365.6 217.3,365.8 217.6,392.6 223,396.2 227.2,398.7 227.5,398.5 226.5,395.3 225.2,386.4 224.1,375.9 225.9,375.4 225.7,373.7ZM284.7,409.6 295.2,409.6 302.6,409.2 305.3,408.7 305.6,406.8 304.9,406.3 296.8,396.2 289.5,393.6 289.1,394.5 289.9,397.8 286.6,402.4 284.4,402 283.5,403 283.5,404.6ZM307.7,408.9 307.8,408.5 306.6,407.6 305.5,407.5 305.3,409ZM274.6,430.2 275.5,430.1 275.5,427.8 280.5,425.8 283.3,429.9 291.4,430.6 291.4,431.4 298.9,434.8 306.1,432.8 306.1,432.4 307.6,432.4 307.6,418.2 307,418.4 307,417.4 306.6,417.2 303.6,421 299.4,421 296.1,414.5 292.5,409.6 285.3,409.6 283.5,411.3 282.1,415.6 278.3,418.7 277.7,419.7 277.8,419.7 273.4,426ZM292.7,409.7 292.6,409.8 296.1,414.5 299.4,421 303.6,421 306.6,417.2 307.4,408.9ZM260.9,426.6 273,426.6 277,421 276.3,420.4 275.2,421.3 264.3,415.8 260.4,412.9 260.2,413ZM300.3,394.3 297.1,396.6 304.9,406.3 307.5,408.3 307.6,408.2 307.6,407.1 312.8,403.5 317.7,402.2 319.9,401.2 319.7,399.9 312,399 311,396.9 308.2,391.2 310.6,385.2 303.6,385.2ZM307,418.4 313.1,416 317.8,412.6 319.4,413 322.1,412.1 322.1,401.1 312.8,403.5 307.6,407.1ZM322.1,413.6 322.4,413.7 322.3,414.6 329.7,414.6 329.5,415.3 338.4,414.4 338.4,406.4 339,406 339,405.6 322.1,401.7ZM347.1,393.6 346.3,401.5 352.2,399.9 352.8,396.6 358.8,395.8 359.2,395.9 359.8,395.6 359.8,387.8 356.9,385.7 347.7,388.7ZM338.4,414.7 352.6,413.9 353.4,403.5 359.4,402.6 360.9,404.6 363.8,402.3 363.2,397.7 364.4,397.7 364.5,396.7 358.8,395.8 352.8,396.6 352.1,400.6 345.7,402.8 338.4,406.4ZM352.6,414.1 354,414.1 354,414 369.1,413.3 369.1,397.7 363.2,397.7 363.8,402.3 360.9,404.6 359.4,402.6 353.4,403.5ZM307.6,432.4 317.4,432.4 324.7,431.1 322.8,428.1 320.8,421.3 322.2,415.3 322.4,413.7 317.8,412.6 313.1,416 307.6,418.2ZM320.8,421.3 322.8,428.1 324.7,431.1 337.4,429.9 337.4,427.9 332.1,427.9 331.8,427.7 331.7,427.7 328.4,425.6 327.9,423.8 327,421.2 329.7,414.6 322.4,414.6ZM329.4,415.3 327,421.2 328.6,425.7 332.1,427.9 337.9,427.9 337.9,414.4ZM338.4,429.8 338.9,429.7 338.9,429.8 345.3,432.4 354,432.4 354,419.3 351.9,413.9 338.4,414.7ZM354,432.4 360,432.4 369.1,431.8 369.1,413.3 354,414ZM307,432.4 307,442.4 307.6,442.4 307.6,447.4 330.8,447.4 330.8,463.6 336.7,463.6 337.4,429.9 324.8,431.1 317.4,432.4ZM330.8,447.4 307.6,447.4 307.6,463.6 330.8,463.6ZM336.7,463.6 337.6,463.6 337.6,465.8 350.5,465.2 353.6,455.9 354.9,449.1 352.7,443.6 346.4,441.1 342.9,432.4 343.3,432.4 343.4,431.6 337.4,429.2ZM346.4,441.1 352.7,443.6 354.4,448 359.8,448 358.5,432.4 342.9,432.4ZM359.8,448 371.5,448 371.4,449.2 371.6,449.3 375.9,446.1 387,437.1 381.9,431.1 358.5,432.4ZM355.1,448 353.6,455.9 350.6,465.1 369.1,465.8 370.8,461.6 371.5,448ZM307.6,443.3 292,443.3 292,452.6 291.4,452.6 291.4,462.4 292.1,462.4 292,463.6 307.6,463.6ZM307,443.3 307,432.5 298.9,434.8 291.4,431.4 291.4,441.1 292,441.1 292,443.3ZM275.5,438.6 276.3,438.6 276.4,441.1 291.4,441.1 291.4,430.6 283.3,429.9 280.5,425.8 275.5,427.8ZM292,451.1 292,441.1 276.4,441.1 276.9,451.1ZM262.4,439.9 263.9,439.9 263.9,451.1 264,451.1 263.9,452.5 263.9,452.6 263.9,452.6 263.7,455.5 275.5,455.5 275.5,451.1 276.9,451.1 276.3,438.6 262.4,438.6ZM275.5,455.5 276.4,455.5 276.4,462.4 285,462.4 284.3,456.7 281.5,451.1 275.5,451.1ZM284.3,456.7 285,462.4 291.4,462.4 291.4,451.1 281.5,451.1ZM263.2,463.6 275.5,463.6 275.5,462.4 276.4,462.4 276.4,455.5 263.7,455.5ZM253.6,452.1 256.1,452.1 256.2,451.1 263.9,451.1 263.9,439.9 255.4,439.9 255.4,450.7 253.6,451ZM263.6,463.6 264.2,482.4 275.5,482.4 275.5,479.6 274.8,479.6 275.5,463.6ZM274.8,478.6 290.5,478.6 290.5,463.6 292,463.6 292.1,462.4 275.5,462.4ZM290.5,478.6 306.1,478.6 305.4,463.6 290.5,463.6ZM306.1,478.6 312.4,478.6 313,471.9 315.8,468.7 312.4,463.6 305.4,463.6ZM312.5,463.6 312.4,463.7 315.8,468.7 313,471.9 312.4,478.6 318.8,478.6 318.8,478.5 320,478.6 320.3,478.6 320.3,478.6 335.1,479.3 337.6,475.4 337.6,463.6ZM275.5,482.4 276.6,482.4 284.9,486.9 287.6,487.3 287.6,485.7 286.5,478.6 275.5,478.6ZM288.1,488.5 292.4,490.1 294.2,489.7 296.1,491.6 297.2,492 297.4,488.4 298.6,488.5 297.1,478.6 286.5,478.6ZM298.6,488.5 306.1,489.8 306.1,478.6 297.1,478.6ZM306.1,489.2 316.2,493 318.8,478.6 306.1,478.6ZM316.2,493 319.1,494.1 318.5,497.4 330.8,497.4 330.8,490.3 335.2,479.3 318.8,478.5ZM330.1,497.4 318.5,497.4 317.7,502 320.1,504.4 320.6,513 330.1,507.6ZM307.6,489.8 307.6,517.4 312.5,517.4 312.6,518.2 319.3,513.8 320.6,513 320.1,504.4 317.7,502 319.1,494.1ZM306.1,520.5 306.1,526.4 311.1,526.4 311.1,519.3 313.2,517.9 313,517.4 307.6,517.4 307.6,520ZM311.1,519.3 311.1,527 339.5,527.7 337.5,521.7 330.7,515.6 329.9,507.7 319.3,513.8ZM266.6,482.4 266.5,483.5 275.8,484 277.1,485.9 282.9,486.7 283.1,486 276.6,482.4ZM288.1,491.3 287.7,491.5 288,494.2 290.5,493.5 290.5,493.5ZM297.2,492 299.2,492.8 307.6,495.8 307.6,490.1 297.4,488.4ZM307.6,518.6 305.1,517.1 304.6,517.7 306.8,520.3 307.6,520ZM225.2,386.4 226.5,395.3 228.3,401.4 246.3,400.8 246.8,399.5 249.9,389.6 251.7,384.5 252.7,384.2 252.9,383.3 246.8,380.2 239.7,377.8 237,372.8 229.7,374.3 224.1,375.9ZM229.2,407.8 231.1,412.8 231.4,423.8 242.9,422.9 241,416.9 243.7,407 246.3,400.8 228.7,401.4ZM242.9,422.9 243.2,422.9 243.3,423.9 244.9,424.4 254.4,426 254.7,427.4 260.8,425.8 260.2,412.8 259.2,412 254.5,409.2 255.4,401.2 256.7,401.4 257.1,398.8 257.1,393.3 257.8,393.3 258.4,382.5 251.7,384.5 249.9,389.6 246.8,399.5 243.7,407 241,416.9ZM221.3,432.7 226.9,436.4 230.6,440.1 236.8,449.9 238.9,453.2 240.7,452.5 243.2,450 243.3,448.9 242.2,444.9 243.6,443.2 243.4,442.8 242.3,443.1 242.6,432.5 242.6,422.9 228.3,424ZM217.3,440 217.3,446.4 221.9,450.6 227.3,453.9 238.9,454.6 239.1,453.4 236.8,449.9 230.6,440.1 226.9,436.4 221.3,432.7 217.6,434.8ZM242.6,432.5 242.3,443.1 244.1,442.6 245.8,440.5 245.8,436 248.9,432.3 255.2,429.8 254.4,426 242.6,424ZM242.2,444.9 244,451.3 244.6,451.1 244.8,452.1 245.7,452.1 255.4,450.7 255.4,429.7 248.9,432.3 245.8,436 245.8,440.5ZM214.3,456.9 219.4,460.7 221.7,461.2 226.1,453.8 221.8,450.6 216.4,447.2 210.6,449.5ZM222.1,460.5 236.7,470.4 238.4,469.8 237.7,468.7 239,464.9 237.8,460.3 238.3,457.7 236.8,455.4 225.9,454.1ZM237.8,460.3 239,464.9 237.7,468.7 241.6,474.8 241.7,474.8 244.1,469.7 244.9,467.7 245.6,463.2 245.2,462.8 245.2,454.9 244.6,451.1 239.1,453.1ZM245.2,462.8 248.2,465.9 250.3,465.9 255.9,462.2 256.4,452.1 245.2,452.1ZM244.1,469.7 241.6,475 242.6,483.8 243.3,484.2 247.3,488.2 250.7,490.2 252.1,486.6 252.1,482.6 254.6,482.8 255.8,482.3 256.4,463.6 255.8,463.6 255.8,462.3 255.7,462.3 250.3,465.9 245.7,465.9ZM256.4,452.1 255.8,463.6 263,463.6 263,452.1ZM256.4,463.9 255.8,482.4 264.2,482.4 263.6,463.9ZM222.2,460.5 222.1,460.6 222.1,462.3 222.4,462.4 222.4,477.9 222.1,477.8 222.1,479.8 231,480.7 236.5,480.9 236.5,480.5 237.4,481 237.4,470.9ZM206.5,473.1 222.4,477.9 222.4,462.4 213.3,460ZM257.1,401.4 264.6,402.2 265.9,406.7 275.2,410.8 283.5,409.3 283.5,401.9 277.5,400.9 279.2,390 279.7,390.1 280,386.7 280,386.7 270.8,391.5 264.8,392.7 257.1,393.3ZM255.4,401.2 254.5,409.2 259.2,412 264.3,415.8 275.2,421.3 282.1,415.6 284.2,409.2 275.2,410.8 265.9,406.7 264.6,402.2ZM279.2,390 277.5,400.9 286.6,402.4 289.9,397.8 288.4,391.7ZM219.6,488.7 220.9,497.9 224,504.2 225.6,511 230.7,507.7 237.1,503.9 237.1,495.9 236.5,495.8 236.5,485.9 235.9,480.9 221.8,480.2ZM236.5,495.7 247.1,496.6 247.4,497.6 252.3,499 252.3,496.5 252.1,491.9 249.6,490.5 243.3,484.2 236.5,480.5ZM237.1,495.7 237.1,504.6 242,503.2 243.2,505.5 252.3,504.8 252.3,499.8 247.8,499.1 247.1,496.6ZM252.1,491.5 257.8,491.5 258.4,492 258.8,491.8 269.1,499 268.7,500.1 267.3,500.1 267.8,501.9 269.2,503.3 271.2,507.1 272.4,507.1 274.7,511 282.8,510.4 286.9,507 286.4,506.5 287.8,494.3 288,494.2 287.7,491 286.3,489.7 287.7,487.3 277.1,485.9 275.8,484 252.1,482.6ZM252.8,506.9 259,508.9 259,507.7 269.4,507.2 267.3,500.1 260.5,500.1 257.9,492.5 258.6,491.9 258.5,491.5 252,491.5ZM257.9,492.5 260.5,500.1 268.7,500.1 269.1,499 258.8,491.8ZM259,509.5 260.1,509.6 274.3,510.3 274.3,510.2 272.4,507.1 259,507.7ZM253.3,518.2 258.9,520.8 266.9,519.1 270.6,516 274.1,519.7 274.1,543.5 291.7,543.5 289.8,539.5 286,529.3 280.9,522.9 276,515.6 273.8,510.3 260.1,509.6 252.6,508.8ZM252.7,517.9 252.5,518.1 255.3,526.8 257.9,532.4 266.8,527.8 268.8,532.2 274.1,532.9 274.1,519.7 270.6,516 266.9,519.1 258.9,520.8ZM258.8,532 261.1,542.9 274.1,542.9 274.1,532.9 268.8,532.2 266.8,527.8ZM290.5,493.5 294.3,492.4 297.2,499.5 299,504.6 292.3,505.8 290.7,510.6 295.4,511 307.2,518.4 307.3,518.4 307.3,495.6 299.2,492.8 287.2,488.1 286.3,489.7ZM285.9,510.2 289.6,510.5 289.8,510.2 287.1,507.2ZM287.8,494.3 286.4,506.5 290.6,511.1 292.3,505.8 299,504.6 297.2,499.5 294.3,492.4Z"/>
<polyline class="s" points="478,154.6 478,197.5 480.5,206.2 481,244.9"/>
<polyline class="s" points="442.7,154.5 440,162.5 440,200 435,200.5 435,213.7"/>
<polyline class="s" points="540,338.7 540,292.5 539.5,265 541.2,263 620,263.8"/>
<polyline class="s" points="600,263.8 670.5,263.2 678.8,256.8 678.8,263 694.2,263 694.2,253.2 700,252.5 711.8,247 720,233.8 740,215 755,202.5 772.5,190 787.5,177.5 787.5,171.2 786.2,169.5 790.5,170.5 787,165 792.5,162.5 799.5,155"/>
<polyline class="s" points="275,544.8 275,552.5 268.1,553.8 270,560 263.8,561"/>
<polyline class="s" points="270,560 275,568.8 278.8,575 278.1,587.5"/>
<polyline class="s" points="268.8,575 277.5,575.6"/>
<polyline class="s" points="268.8,575 266,581.2 271.2,590 276.2,587.5 278.1,586.9 289.4,586.9 293.1,583.8 301.9,583.8 306.2,585.6 312.5,585 325.4,586.2"/>
<polyline class="s" points="256.9,593.2 261.2,595.6 267.5,595 271.2,591.9 276.2,587.5"/>
<polyline class="s" points="275,312.4 282.5,311.9 291.2,310.6 295,310.2"/>
<polyline class="s" points="373.6,355.8 369.4,361.2 369.4,384.4"/>
<polyline class="s" points="258.4,379.1 258.1,381.2"/>
<polyline class="s" points="257.1,402.7 256.9,409.1"/>
<polyline class="s" points="256.5,428.3 274.2,437.1"/>
<polyline class="s" points="306.9,464.9 306.9,467.2"/>
<polyline class="s" points="338.2,456 338.1,462.4"/>
<polyline class="s" points="276.8,463.9 289.2,464"/>
<polyline class="s" points="385.1,436.8 385,436.9 375,445 374.7,445.3"/>
<polyline class="s" points="370,451.2 370,451.2 369.4,461.2 368.1,464.4"/>
<polyline class="s" points="300,583.8 312.5,585 324.8,585.6"/>
<polyline class="s" points="203,447 207.5,448.1 209.3,449.6"/>
<polyline class="s" points="206.5,470.3 205,472.5 201.2,475 197.5,481.2 192.5,486.2 190,488.8"/>
<polyline class="s" points="82.5,269.4 86.2,267.8 88.8,269.8 94,270"/>
<polyline class="s" points="94,263.8 94,270 94.4,277.5 91.2,281.2 91.9,286.2 88.1,289.4 83.8,295 85,301.2 89.4,310 95,313.8 98.1,320 101.2,323.8 101.9,328.8 106.2,333.1 111.2,336.9 114.4,336.9 116.9,343.1 121.9,343.8 125.6,346.9 128.8,346.2 132.5,351.2 136.2,355 136.9,360 138.8,373.1 136.9,376.9 142.5,380.6 146.3,383.4 153.8,379.7 159.4,380.6 166.9,388.1 172.5,393.8 180,398.4 178.1,405 189.4,405 193.1,407.8 191.3,421.9 186.6,431.3 185.4,433.7"/>
<polyline class="s" points="82.3,344.4 82.5,345 86.2,347.5 96.2,358.8 101.3,362.8 106.9,371.3 112.5,377.8 121.9,385.3 127.5,391.9 126.6,399.4 133.1,409.7 138.8,410.6 144.4,416.3 148.1,420.9 161.3,423.8 165,429.4 167.4,431.6"/>
<polyline class="s" points="156.3,514.3 159.4,513.8 162.5,511.9 166.2,513.8 172.5,513.1 176.2,511.2 179.4,505 180,500 185,494.4 188.1,493.1 190,487.5 193.8,485 197.5,480"/>
<polyline class="s" points="188.1,493.1 186.9,498.8 189.4,501.2 187.5,507.5 188.1,515 182.5,515.6 176.9,520.6 180,521.2 187.5,518.8 192.5,517.5 195,514.4 200,513.8 203.8,515 208.1,513.8 211.2,516.2 216.2,515 222.5,513.8 224.4,511.5"/>
<polyline class="s" points="216.2,515 212.5,521.2 210,523.8 205,524.4 202.5,530 201.9,535 203.1,538.8 201.2,545 200,550 202.5,547.5 205,540 206.2,536.2 210,535 210,530 211.9,526.9 213.3,527.4"/>
<polyline class="s" points="358.2,585.1 365,586.2 367.4,584.3"/>
</g>
<rect class="frame" shape-rendering="crispEdges" x="932.2" y="139" width="362.8" height="494.6" rx="5" ry="5"/>
<text class="ttl" x="943.1" y="177.2">renter-occupied family (%)</text>
<rect x="943" y="205" width="32" height="408" rx="4" ry="4" fill="url(#g)" stroke="#404040" stroke-width="1.8"/>
<g class="tk" shape-rendering="crispEdges"><line x1="970" x2="979" y1="287.1" y2="287.1"/><line x1="970" x2="979" y1="367.7" y2="367.7"/><line x1="970" x2="979" y1="448.3" y2="448.3"/><line x1="970" x2="979" y1="528.9" y2="528.9"/></g>
<g class="lab"><text x="989" y="215.9">0</text><text x="989" y="296.5">20</text><text x="989" y="377.1">40</text><text x="989" y="457.7">60</text><text x="989" y="538.3">80</text><text x="989" y="618.9">100</text></g>
</svg>
</body>
</html>
